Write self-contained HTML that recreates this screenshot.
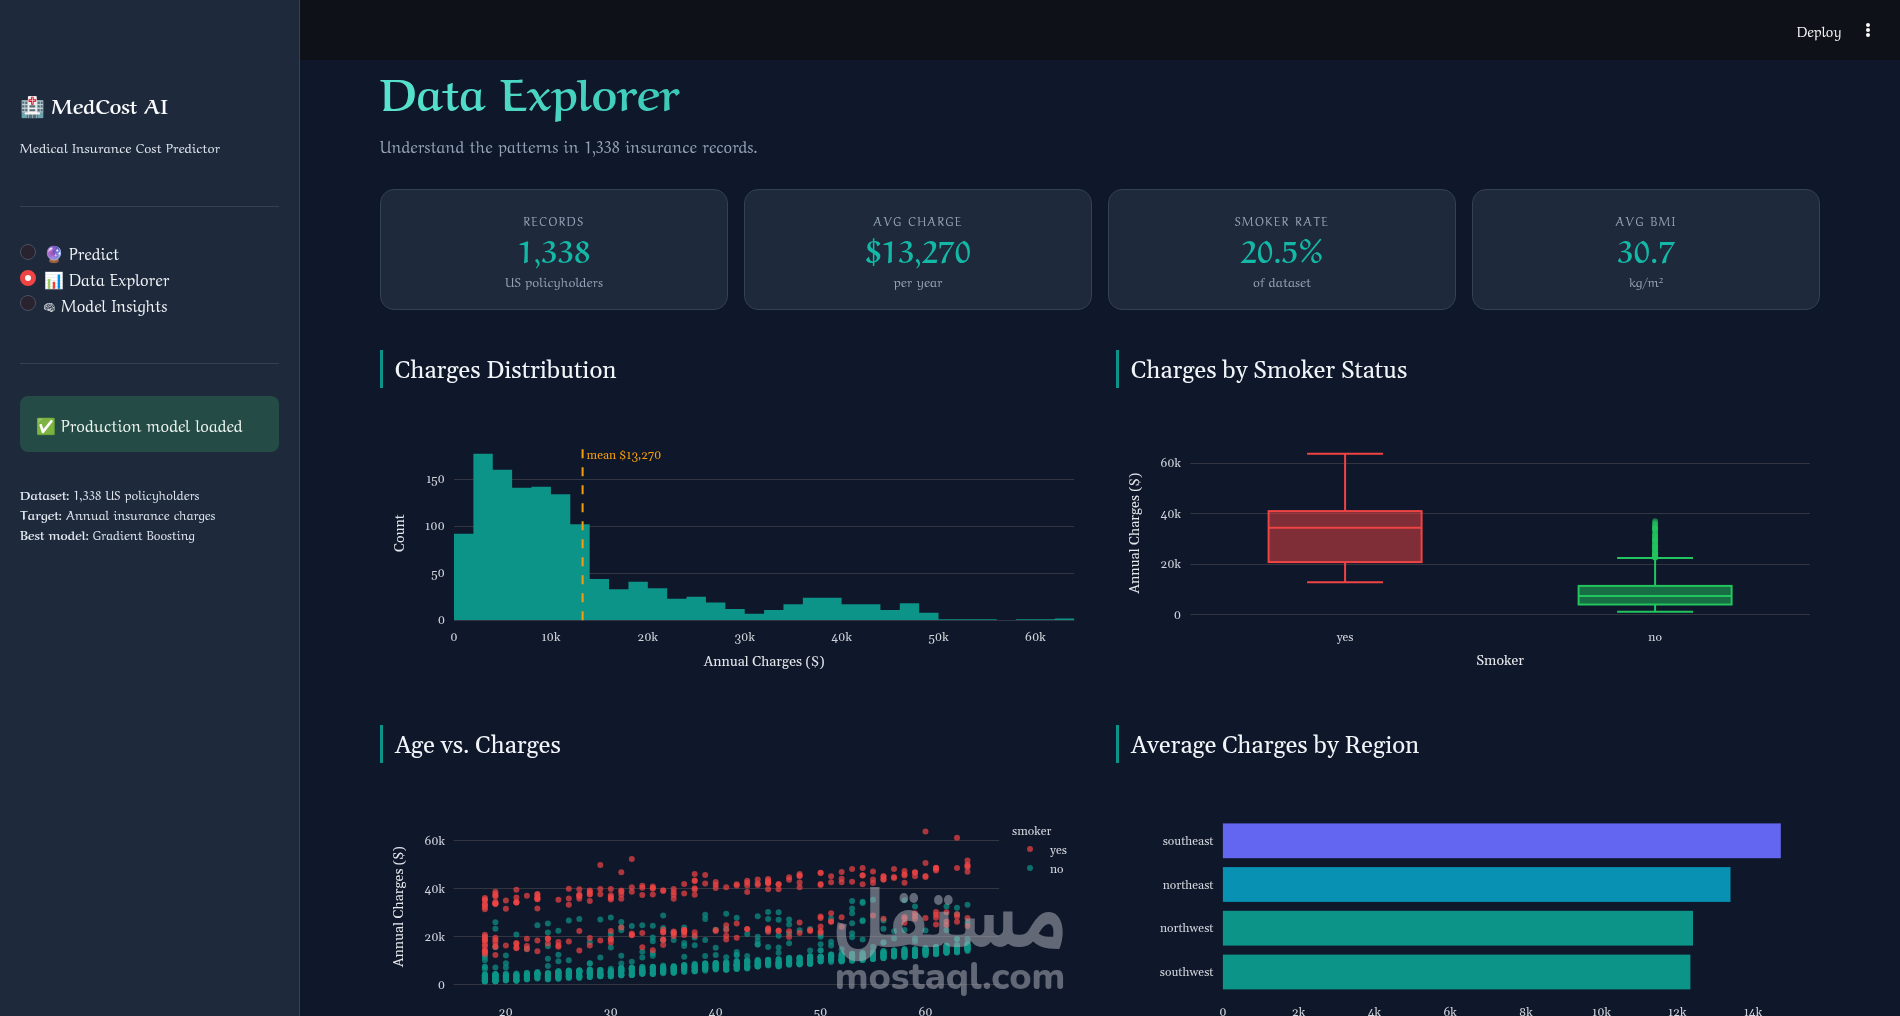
<!DOCTYPE html><html><head><meta charset="utf-8"><title>MedCost AI · Data Explorer</title><style>
*{margin:0;padding:0;box-sizing:border-box}
html,body{width:1900px;height:1016px;overflow:hidden;background:#0f172a;font-family:'Aref Ruqaa','Liberation Serif',serif}
#root{position:absolute;left:0;top:0;width:1900px;height:1016px;will-change:transform}
#sb{position:absolute;left:0;top:0;width:300px;height:1016px;background:#1e293b;border-right:1px solid #334155}
#hdr{position:absolute;left:300px;top:0;width:1600px;height:60px;background:#0e1117}
.hr{position:absolute;left:20px;width:259px;height:1px;background:#334155}
.rad{position:absolute;left:20px;width:16px;height:16px;border-radius:50%;background:#28232e;border:1px solid #4a5060}
.rad.sel{background:#f8fafc;border:5px solid #ef4444}
#succ{position:absolute;left:20px;top:396px;width:259px;height:56px;border-radius:8px;background:rgba(61,213,109,0.2)}
.emo{font-family:'Noto Color Emoji',sans-serif;font-size:1em}
.mono{font-family:'Noto Emoji','DejaVu Sans',sans-serif;font-size:0.62em;font-weight:300;position:relative;top:-1px}
.kb{position:absolute;left:1866px;width:4px;height:4px;border-radius:50%;background:#fafafa}
.grad{background:linear-gradient(90deg,#58e3cf,#3cc9b7);-webkit-background-clip:text;background-clip:text;color:transparent}
.card{position:absolute;top:189px;width:348px;height:121px;border-radius:14px;background:#1e293b;border:1px solid #334155}
.sec{position:absolute;width:3px;height:38px;background:#0d9488}
#ch,#tx{position:absolute;left:0;top:0}
#wm{position:absolute;left:825px;top:870px;width:250px;height:135px;color:#aaacb6;opacity:0.55}
#wm .wa{position:absolute;left:0;top:8px;width:250px;text-align:center;font-family:Alexandria,'DejaVu Sans',sans-serif;font-weight:700;font-size:60px;line-height:90px;transform:scaleY(1.15)}
#wm .wl{position:absolute;left:0;top:87px;width:250px;text-align:center;font-family:Nunito,'DejaVu Sans',sans-serif;font-weight:800;font-size:38px;line-height:40px}
</style></head><body><div id="root"><div id="sb"></div><div class="hr" style="top:206px"></div><div class="rad" style="top:244px"></div><div class="rad sel" style="top:270px"></div><div class="rad" style="top:295px"></div><div class="hr" style="top:363px"></div><div id="succ"></div><div id="hdr"></div><div class="kb" style="top:23px"></div><div class="kb" style="top:28px"></div><div class="kb" style="top:33px"></div><div class="card" style="left:380px"></div><div class="card" style="left:744px"></div><div class="card" style="left:1108px"></div><div class="card" style="left:1472px"></div><div class="sec" style="left:380px;top:350px"></div><div class="sec" style="left:1116px;top:350px"></div><div class="sec" style="left:380px;top:725px"></div><div class="sec" style="left:1116px;top:725px"></div><svg id="ch" width="1900" height="1016" viewBox="0 0 1900 1016" font-family="Gelasio, 'Liberation Serif', serif"><line x1="454.0" x2="1074.2" y1="573.5" y2="573.5" stroke="#333541" stroke-width="1"/><line x1="454.0" x2="1074.2" y1="526.5" y2="526.5" stroke="#333541" stroke-width="1"/><line x1="454.0" x2="1074.2" y1="479.5" y2="479.5" stroke="#333541" stroke-width="1"/><path d="M454.00,620.30L454.00,533.76L473.38,533.76L473.38,453.80L492.76,453.80L492.76,469.79L512.14,469.79L512.14,487.66L531.52,487.66L531.52,486.72L550.91,486.72L550.91,494.25L570.29,494.25L570.29,524.35L589.67,524.35L589.67,578.91L609.05,578.91L609.05,589.26L628.43,589.26L628.43,581.73L647.81,581.73L647.81,588.32L667.19,588.32L667.19,598.66L686.58,598.66L686.58,596.78L705.96,596.78L705.96,602.43L725.34,602.43L725.34,609.01L744.72,609.01L744.72,613.72L764.10,613.72L764.10,609.95L783.48,609.95L783.48,604.31L802.86,604.31L802.86,597.72L822.24,597.72L822.24,597.72L841.63,597.72L841.62,604.31L861.01,604.31L861.01,604.31L880.39,604.31L880.39,609.95L899.77,609.95L899.77,603.37L919.15,603.37L919.15,612.77L938.53,612.77L938.53,619.36L957.91,619.36L957.91,619.36L977.29,619.36L977.29,619.36L996.68,619.36L996.68,620.30L1016.06,620.30L1016.06,619.36L1035.44,619.36L1035.44,619.36L1054.82,619.36L1054.82,618.42L1074.20,618.42L1074.20,620.30Z" fill="#0d9488"/><line x1="454.0" x2="1074.2" y1="620.5" y2="620.5" stroke="#333541" stroke-width="1"/><line x1="582.6" x2="582.6" y1="620.3" y2="446.0" stroke="#f59e0b" stroke-width="2" stroke-dasharray="9,9"/><text x="586.6" y="459.0" font-size="12" text-anchor="start" fill="#f59e0b" id="t28" textLength="74.844" lengthAdjust="spacingAndGlyphs">mean $13,270</text><text x="445.0" y="624.3" font-size="12" text-anchor="end" fill="#d1d5db" id="t29" textLength="7.375" lengthAdjust="spacingAndGlyphs">0</text><text x="445.0" y="577.3" font-size="12" text-anchor="end" fill="#d1d5db" id="t30" textLength="13.719" lengthAdjust="spacingAndGlyphs">50</text><text x="445.0" y="530.2" font-size="12" text-anchor="end" fill="#d1d5db" id="t31" textLength="19.891" lengthAdjust="spacingAndGlyphs">100</text><text x="445.0" y="483.2" font-size="12" text-anchor="end" fill="#d1d5db" id="t32" textLength="18.875" lengthAdjust="spacingAndGlyphs">150</text><text x="454.0" y="641.0" font-size="12" text-anchor="middle" fill="#d1d5db" id="t33" textLength="7.375" lengthAdjust="spacingAndGlyphs">0</text><text x="550.9" y="641.0" font-size="12" text-anchor="middle" fill="#d1d5db" id="t34" textLength="18.953" lengthAdjust="spacingAndGlyphs">10k</text><text x="647.8" y="641.0" font-size="12" text-anchor="middle" fill="#d1d5db" id="t35" textLength="20.500" lengthAdjust="spacingAndGlyphs">20k</text><text x="744.7" y="641.0" font-size="12" text-anchor="middle" fill="#d1d5db" id="t36" textLength="20.422" lengthAdjust="spacingAndGlyphs">30k</text><text x="841.6" y="641.0" font-size="12" text-anchor="middle" fill="#d1d5db" id="t37" textLength="20.578" lengthAdjust="spacingAndGlyphs">40k</text><text x="938.5" y="641.0" font-size="12" text-anchor="middle" fill="#d1d5db" id="t38" textLength="20.141" lengthAdjust="spacingAndGlyphs">50k</text><text x="1035.4" y="641.0" font-size="12" text-anchor="middle" fill="#d1d5db" id="t39" textLength="20.594" lengthAdjust="spacingAndGlyphs">60k</text><text x="764.1" y="665.8" font-size="14" text-anchor="middle" fill="#e5e7eb" id="t40" textLength="120.719" lengthAdjust="spacingAndGlyphs">Annual Charges ($)</text><text x="404.0" y="533.1" font-size="14" text-anchor="middle" fill="#e5e7eb" transform="rotate(-90 404 533.15)" id="t41" textLength="37.703" lengthAdjust="spacingAndGlyphs">Count</text><line x1="1190.3" x2="1809.9" y1="614.5" y2="614.5" stroke="#333541" stroke-width="1"/><text x="1181.0" y="618.5" font-size="12" text-anchor="end" fill="#d1d5db" id="t42" textLength="7.375" lengthAdjust="spacingAndGlyphs">0</text><line x1="1190.3" x2="1809.9" y1="564.5" y2="564.5" stroke="#333541" stroke-width="1"/><text x="1181.0" y="568.1" font-size="12" text-anchor="end" fill="#d1d5db" id="t43" textLength="20.500" lengthAdjust="spacingAndGlyphs">20k</text><line x1="1190.3" x2="1809.9" y1="513.5" y2="513.5" stroke="#333541" stroke-width="1"/><text x="1181.0" y="517.7" font-size="12" text-anchor="end" fill="#d1d5db" id="t44" textLength="20.578" lengthAdjust="spacingAndGlyphs">40k</text><line x1="1190.3" x2="1809.9" y1="463.5" y2="463.5" stroke="#333541" stroke-width="1"/><text x="1181.0" y="467.3" font-size="12" text-anchor="end" fill="#d1d5db" id="t45" textLength="20.594" lengthAdjust="spacingAndGlyphs">60k</text><line x1="1345.1" x2="1345.1" y1="511.1" y2="453.8" stroke="#ef4444" stroke-width="2"/><line x1="1345.1" x2="1345.1" y1="562.1" y2="582.2" stroke="#ef4444" stroke-width="2"/><line x1="1307.1" x2="1383.1" y1="453.8" y2="453.8" stroke="#ef4444" stroke-width="2"/><line x1="1307.1" x2="1383.1" y1="582.2" y2="582.2" stroke="#ef4444" stroke-width="2"/><rect x="1268.6" y="511.1" width="153.0" height="51.0" fill="rgba(239,68,68,0.5)" stroke="#ef4444" stroke-width="2"/><line x1="1268.6" x2="1421.6" y1="527.7" y2="527.7" stroke="#ef4444" stroke-width="2"/><line x1="1655.1" x2="1655.1" y1="585.9" y2="558.1" stroke="#22c55e" stroke-width="2"/><line x1="1655.1" x2="1655.1" y1="604.4" y2="611.7" stroke="#22c55e" stroke-width="2"/><line x1="1617.1" x2="1693.1" y1="558.1" y2="558.1" stroke="#22c55e" stroke-width="2"/><line x1="1617.1" x2="1693.1" y1="611.7" y2="611.7" stroke="#22c55e" stroke-width="2"/><rect x="1578.6" y="585.9" width="153.0" height="18.6" fill="rgba(34,197,94,0.5)" stroke="#22c55e" stroke-width="2"/><line x1="1578.6" x2="1731.6" y1="596.0" y2="596.0" stroke="#22c55e" stroke-width="2"/><circle cx="1655.1" cy="557.5" r="3" fill="#22c55e" fill-opacity="0.55" /><circle cx="1655.1" cy="557.4" r="3" fill="#22c55e" fill-opacity="0.55" /><circle cx="1655.1" cy="557.1" r="3" fill="#22c55e" fill-opacity="0.55" /><circle cx="1655.1" cy="557.1" r="3" fill="#22c55e" fill-opacity="0.55" /><circle cx="1655.1" cy="556.7" r="3" fill="#22c55e" fill-opacity="0.55" /><circle cx="1655.1" cy="556.0" r="3" fill="#22c55e" fill-opacity="0.55" /><circle cx="1655.1" cy="555.8" r="3" fill="#22c55e" fill-opacity="0.55" /><circle cx="1655.1" cy="554.4" r="3" fill="#22c55e" fill-opacity="0.55" /><circle cx="1655.1" cy="554.0" r="3" fill="#22c55e" fill-opacity="0.55" /><circle cx="1655.1" cy="553.9" r="3" fill="#22c55e" fill-opacity="0.55" /><circle cx="1655.1" cy="553.3" r="3" fill="#22c55e" fill-opacity="0.55" /><circle cx="1655.1" cy="552.2" r="3" fill="#22c55e" fill-opacity="0.55" /><circle cx="1655.1" cy="552.2" r="3" fill="#22c55e" fill-opacity="0.55" /><circle cx="1655.1" cy="550.1" r="3" fill="#22c55e" fill-opacity="0.55" /><circle cx="1655.1" cy="549.6" r="3" fill="#22c55e" fill-opacity="0.55" /><circle cx="1655.1" cy="549.3" r="3" fill="#22c55e" fill-opacity="0.55" /><circle cx="1655.1" cy="547.9" r="3" fill="#22c55e" fill-opacity="0.55" /><circle cx="1655.1" cy="547.6" r="3" fill="#22c55e" fill-opacity="0.55" /><circle cx="1655.1" cy="546.6" r="3" fill="#22c55e" fill-opacity="0.55" /><circle cx="1655.1" cy="546.5" r="3" fill="#22c55e" fill-opacity="0.55" /><circle cx="1655.1" cy="546.4" r="3" fill="#22c55e" fill-opacity="0.55" /><circle cx="1655.1" cy="545.2" r="3" fill="#22c55e" fill-opacity="0.55" /><circle cx="1655.1" cy="544.6" r="3" fill="#22c55e" fill-opacity="0.55" /><circle cx="1655.1" cy="543.7" r="3" fill="#22c55e" fill-opacity="0.55" /><circle cx="1655.1" cy="541.8" r="3" fill="#22c55e" fill-opacity="0.55" /><circle cx="1655.1" cy="541.2" r="3" fill="#22c55e" fill-opacity="0.55" /><circle cx="1655.1" cy="540.3" r="3" fill="#22c55e" fill-opacity="0.55" /><circle cx="1655.1" cy="540.2" r="3" fill="#22c55e" fill-opacity="0.55" /><circle cx="1655.1" cy="539.9" r="3" fill="#22c55e" fill-opacity="0.55" /><circle cx="1655.1" cy="539.7" r="3" fill="#22c55e" fill-opacity="0.55" /><circle cx="1655.1" cy="538.2" r="3" fill="#22c55e" fill-opacity="0.55" /><circle cx="1655.1" cy="536.2" r="3" fill="#22c55e" fill-opacity="0.55" /><circle cx="1655.1" cy="536.0" r="3" fill="#22c55e" fill-opacity="0.55" /><circle cx="1655.1" cy="534.9" r="3" fill="#22c55e" fill-opacity="0.55" /><circle cx="1655.1" cy="534.1" r="3" fill="#22c55e" fill-opacity="0.55" /><circle cx="1655.1" cy="531.9" r="3" fill="#22c55e" fill-opacity="0.55" /><circle cx="1655.1" cy="530.1" r="3" fill="#22c55e" fill-opacity="0.55" /><circle cx="1655.1" cy="530.0" r="3" fill="#22c55e" fill-opacity="0.55" /><circle cx="1655.1" cy="528.5" r="3" fill="#22c55e" fill-opacity="0.55" /><circle cx="1655.1" cy="528.4" r="3" fill="#22c55e" fill-opacity="0.55" /><circle cx="1655.1" cy="527.8" r="3" fill="#22c55e" fill-opacity="0.55" /><circle cx="1655.1" cy="527.8" r="3" fill="#22c55e" fill-opacity="0.55" /><circle cx="1655.1" cy="525.5" r="3" fill="#22c55e" fill-opacity="0.55" /><circle cx="1655.1" cy="524.7" r="3" fill="#22c55e" fill-opacity="0.55" /><circle cx="1655.1" cy="523.0" r="3" fill="#22c55e" fill-opacity="0.55" /><circle cx="1655.1" cy="521.3" r="3" fill="#22c55e" fill-opacity="0.55" /><text x="1345.1" y="641.0" font-size="12" text-anchor="middle" fill="#d1d5db" id="t46" textLength="16.906" lengthAdjust="spacingAndGlyphs">yes</text><text x="1655.1" y="641.0" font-size="12" text-anchor="middle" fill="#d1d5db" id="t47" textLength="13.562" lengthAdjust="spacingAndGlyphs">no</text><text x="1500.1" y="665.0" font-size="14" text-anchor="middle" fill="#e5e7eb" id="t48" textLength="47.750" lengthAdjust="spacingAndGlyphs">Smoker</text><text x="1139.0" y="533.0" font-size="14" text-anchor="middle" fill="#e5e7eb" transform="rotate(-90 1139 533)" id="t49" textLength="120.719" lengthAdjust="spacingAndGlyphs">Annual Charges ($)</text><line x1="453.6" x2="999.2" y1="984.5" y2="984.5" stroke="#333541" stroke-width="1"/><text x="445.0" y="988.9" font-size="12" text-anchor="end" fill="#d1d5db" id="t50" textLength="7.375" lengthAdjust="spacingAndGlyphs">0</text><line x1="453.6" x2="999.2" y1="936.5" y2="936.5" stroke="#333541" stroke-width="1"/><text x="445.0" y="941.0" font-size="12" text-anchor="end" fill="#d1d5db" id="t51" textLength="20.500" lengthAdjust="spacingAndGlyphs">20k</text><line x1="453.6" x2="999.2" y1="888.5" y2="888.5" stroke="#333541" stroke-width="1"/><text x="445.0" y="893.0" font-size="12" text-anchor="end" fill="#d1d5db" id="t52" textLength="20.578" lengthAdjust="spacingAndGlyphs">40k</text><line x1="453.6" x2="999.2" y1="840.5" y2="840.5" stroke="#333541" stroke-width="1"/><text x="445.0" y="845.1" font-size="12" text-anchor="end" fill="#d1d5db" id="t53" textLength="20.594" lengthAdjust="spacingAndGlyphs">60k</text><text x="505.9" y="1016.2" font-size="12" text-anchor="middle" fill="#d1d5db" id="t54" textLength="14.078" lengthAdjust="spacingAndGlyphs">20</text><text x="610.8" y="1016.2" font-size="12" text-anchor="middle" fill="#d1d5db" id="t55" textLength="14.000" lengthAdjust="spacingAndGlyphs">30</text><text x="715.7" y="1016.2" font-size="12" text-anchor="middle" fill="#d1d5db" id="t56" textLength="14.156" lengthAdjust="spacingAndGlyphs">40</text><text x="820.6" y="1016.2" font-size="12" text-anchor="middle" fill="#d1d5db" id="t57" textLength="13.719" lengthAdjust="spacingAndGlyphs">50</text><text x="925.5" y="1016.2" font-size="12" text-anchor="middle" fill="#d1d5db" id="t58" textLength="14.156" lengthAdjust="spacingAndGlyphs">60</text><text x="403.0" y="906.5" font-size="14" text-anchor="middle" fill="#e5e7eb" transform="rotate(-90 403 906.5)" id="t59" textLength="120.719" lengthAdjust="spacingAndGlyphs">Annual Charges ($)</text><circle cx="484.9" cy="975.8" r="3" fill="#0d9488" fill-opacity="0.7"/><circle cx="484.9" cy="980.5" r="3" fill="#0d9488" fill-opacity="0.7"/><circle cx="484.9" cy="976.0" r="3" fill="#0d9488" fill-opacity="0.7"/><circle cx="484.9" cy="981.3" r="3" fill="#0d9488" fill-opacity="0.7"/><circle cx="484.9" cy="975.3" r="3" fill="#0d9488" fill-opacity="0.7"/><circle cx="484.9" cy="979.7" r="3" fill="#0d9488" fill-opacity="0.7"/><circle cx="484.9" cy="974.7" r="3" fill="#0d9488" fill-opacity="0.7"/><circle cx="484.9" cy="975.8" r="3" fill="#0d9488" fill-opacity="0.7"/><circle cx="484.9" cy="980.9" r="3" fill="#0d9488" fill-opacity="0.7"/><circle cx="484.9" cy="980.7" r="3" fill="#0d9488" fill-opacity="0.7"/><circle cx="484.9" cy="936.7" r="3" fill="#0d9488" fill-opacity="0.7"/><circle cx="484.9" cy="976.5" r="3" fill="#0d9488" fill-opacity="0.7"/><circle cx="484.9" cy="954.9" r="3" fill="#0d9488" fill-opacity="0.7"/><circle cx="484.9" cy="979.3" r="3" fill="#0d9488" fill-opacity="0.7"/><circle cx="484.9" cy="981.3" r="3" fill="#0d9488" fill-opacity="0.7"/><circle cx="484.9" cy="978.4" r="3" fill="#0d9488" fill-opacity="0.7"/><circle cx="484.9" cy="980.6" r="3" fill="#0d9488" fill-opacity="0.7"/><circle cx="484.9" cy="977.3" r="3" fill="#0d9488" fill-opacity="0.7"/><circle cx="484.9" cy="979.9" r="3" fill="#0d9488" fill-opacity="0.7"/><circle cx="484.9" cy="979.4" r="3" fill="#0d9488" fill-opacity="0.7"/><circle cx="484.9" cy="975.1" r="3" fill="#0d9488" fill-opacity="0.7"/><circle cx="484.9" cy="974.4" r="3" fill="#0d9488" fill-opacity="0.7"/><circle cx="484.9" cy="975.2" r="3" fill="#0d9488" fill-opacity="0.7"/><circle cx="484.9" cy="980.4" r="3" fill="#0d9488" fill-opacity="0.7"/><circle cx="484.9" cy="981.3" r="3" fill="#0d9488" fill-opacity="0.7"/><circle cx="484.9" cy="978.5" r="3" fill="#0d9488" fill-opacity="0.7"/><circle cx="484.9" cy="980.3" r="3" fill="#0d9488" fill-opacity="0.7"/><circle cx="484.9" cy="981.0" r="3" fill="#0d9488" fill-opacity="0.7"/><circle cx="484.9" cy="980.4" r="3" fill="#0d9488" fill-opacity="0.7"/><circle cx="484.9" cy="976.5" r="3" fill="#0d9488" fill-opacity="0.7"/><circle cx="484.9" cy="975.2" r="3" fill="#0d9488" fill-opacity="0.7"/><circle cx="484.9" cy="977.7" r="3" fill="#0d9488" fill-opacity="0.7"/><circle cx="484.9" cy="978.1" r="3" fill="#0d9488" fill-opacity="0.7"/><circle cx="484.9" cy="981.3" r="3" fill="#0d9488" fill-opacity="0.7"/><circle cx="484.9" cy="969.6" r="3" fill="#0d9488" fill-opacity="0.7"/><circle cx="484.9" cy="975.5" r="3" fill="#0d9488" fill-opacity="0.7"/><circle cx="484.9" cy="979.1" r="3" fill="#0d9488" fill-opacity="0.7"/><circle cx="484.9" cy="966.5" r="3" fill="#0d9488" fill-opacity="0.7"/><circle cx="484.9" cy="978.0" r="3" fill="#0d9488" fill-opacity="0.7"/><circle cx="484.9" cy="980.6" r="3" fill="#0d9488" fill-opacity="0.7"/><circle cx="484.9" cy="976.6" r="3" fill="#0d9488" fill-opacity="0.7"/><circle cx="484.9" cy="976.0" r="3" fill="#0d9488" fill-opacity="0.7"/><circle cx="484.9" cy="979.9" r="3" fill="#0d9488" fill-opacity="0.7"/><circle cx="484.9" cy="960.2" r="3" fill="#0d9488" fill-opacity="0.7"/><circle cx="484.9" cy="974.7" r="3" fill="#0d9488" fill-opacity="0.7"/><circle cx="484.9" cy="976.7" r="3" fill="#0d9488" fill-opacity="0.7"/><circle cx="484.9" cy="981.3" r="3" fill="#0d9488" fill-opacity="0.7"/><circle cx="484.9" cy="957.5" r="3" fill="#0d9488" fill-opacity="0.7"/><circle cx="484.9" cy="967.3" r="3" fill="#0d9488" fill-opacity="0.7"/><circle cx="484.9" cy="978.8" r="3" fill="#0d9488" fill-opacity="0.7"/><circle cx="484.9" cy="977.2" r="3" fill="#0d9488" fill-opacity="0.7"/><circle cx="495.4" cy="978.8" r="3" fill="#0d9488" fill-opacity="0.7"/><circle cx="495.4" cy="981.3" r="3" fill="#0d9488" fill-opacity="0.7"/><circle cx="495.4" cy="976.2" r="3" fill="#0d9488" fill-opacity="0.7"/><circle cx="495.4" cy="978.3" r="3" fill="#0d9488" fill-opacity="0.7"/><circle cx="495.4" cy="978.0" r="3" fill="#0d9488" fill-opacity="0.7"/><circle cx="495.4" cy="967.6" r="3" fill="#0d9488" fill-opacity="0.7"/><circle cx="495.4" cy="976.1" r="3" fill="#0d9488" fill-opacity="0.7"/><circle cx="495.4" cy="976.9" r="3" fill="#0d9488" fill-opacity="0.7"/><circle cx="495.4" cy="975.0" r="3" fill="#0d9488" fill-opacity="0.7"/><circle cx="495.4" cy="980.0" r="3" fill="#0d9488" fill-opacity="0.7"/><circle cx="495.4" cy="977.0" r="3" fill="#0d9488" fill-opacity="0.7"/><circle cx="495.4" cy="922.3" r="3" fill="#0d9488" fill-opacity="0.7"/><circle cx="495.4" cy="974.2" r="3" fill="#0d9488" fill-opacity="0.7"/><circle cx="495.4" cy="979.3" r="3" fill="#0d9488" fill-opacity="0.7"/><circle cx="495.4" cy="979.9" r="3" fill="#0d9488" fill-opacity="0.7"/><circle cx="495.4" cy="979.9" r="3" fill="#0d9488" fill-opacity="0.7"/><circle cx="495.4" cy="976.4" r="3" fill="#0d9488" fill-opacity="0.7"/><circle cx="495.4" cy="974.3" r="3" fill="#0d9488" fill-opacity="0.7"/><circle cx="495.4" cy="977.0" r="3" fill="#0d9488" fill-opacity="0.7"/><circle cx="495.4" cy="978.9" r="3" fill="#0d9488" fill-opacity="0.7"/><circle cx="495.4" cy="974.2" r="3" fill="#0d9488" fill-opacity="0.7"/><circle cx="495.4" cy="975.5" r="3" fill="#0d9488" fill-opacity="0.7"/><circle cx="495.4" cy="981.3" r="3" fill="#0d9488" fill-opacity="0.7"/><circle cx="495.4" cy="975.4" r="3" fill="#0d9488" fill-opacity="0.7"/><circle cx="495.4" cy="928.7" r="3" fill="#0d9488" fill-opacity="0.7"/><circle cx="495.4" cy="980.5" r="3" fill="#0d9488" fill-opacity="0.7"/><circle cx="495.4" cy="978.1" r="3" fill="#0d9488" fill-opacity="0.7"/><circle cx="495.4" cy="979.8" r="3" fill="#0d9488" fill-opacity="0.7"/><circle cx="495.4" cy="976.9" r="3" fill="#0d9488" fill-opacity="0.7"/><circle cx="495.4" cy="981.3" r="3" fill="#0d9488" fill-opacity="0.7"/><circle cx="495.4" cy="980.4" r="3" fill="#0d9488" fill-opacity="0.7"/><circle cx="495.4" cy="981.3" r="3" fill="#0d9488" fill-opacity="0.7"/><circle cx="495.4" cy="976.7" r="3" fill="#0d9488" fill-opacity="0.7"/><circle cx="495.4" cy="976.1" r="3" fill="#0d9488" fill-opacity="0.7"/><circle cx="495.4" cy="975.2" r="3" fill="#0d9488" fill-opacity="0.7"/><circle cx="495.4" cy="979.1" r="3" fill="#0d9488" fill-opacity="0.7"/><circle cx="495.4" cy="980.6" r="3" fill="#0d9488" fill-opacity="0.7"/><circle cx="495.4" cy="980.7" r="3" fill="#0d9488" fill-opacity="0.7"/><circle cx="495.4" cy="974.6" r="3" fill="#0d9488" fill-opacity="0.7"/><circle cx="495.4" cy="975.6" r="3" fill="#0d9488" fill-opacity="0.7"/><circle cx="495.4" cy="974.6" r="3" fill="#0d9488" fill-opacity="0.7"/><circle cx="495.4" cy="974.3" r="3" fill="#0d9488" fill-opacity="0.7"/><circle cx="495.4" cy="981.3" r="3" fill="#0d9488" fill-opacity="0.7"/><circle cx="495.4" cy="977.0" r="3" fill="#0d9488" fill-opacity="0.7"/><circle cx="495.4" cy="980.7" r="3" fill="#0d9488" fill-opacity="0.7"/><circle cx="495.4" cy="974.8" r="3" fill="#0d9488" fill-opacity="0.7"/><circle cx="495.4" cy="947.2" r="3" fill="#0d9488" fill-opacity="0.7"/><circle cx="495.4" cy="974.8" r="3" fill="#0d9488" fill-opacity="0.7"/><circle cx="495.4" cy="978.7" r="3" fill="#0d9488" fill-opacity="0.7"/><circle cx="495.4" cy="980.9" r="3" fill="#0d9488" fill-opacity="0.7"/><circle cx="495.4" cy="981.1" r="3" fill="#0d9488" fill-opacity="0.7"/><circle cx="495.4" cy="974.7" r="3" fill="#0d9488" fill-opacity="0.7"/><circle cx="495.4" cy="980.0" r="3" fill="#0d9488" fill-opacity="0.7"/><circle cx="495.4" cy="975.7" r="3" fill="#0d9488" fill-opacity="0.7"/><circle cx="505.9" cy="979.5" r="3" fill="#0d9488" fill-opacity="0.7"/><circle cx="505.9" cy="977.5" r="3" fill="#0d9488" fill-opacity="0.7"/><circle cx="505.9" cy="977.8" r="3" fill="#0d9488" fill-opacity="0.7"/><circle cx="505.9" cy="975.5" r="3" fill="#0d9488" fill-opacity="0.7"/><circle cx="505.9" cy="955.6" r="3" fill="#0d9488" fill-opacity="0.7"/><circle cx="505.9" cy="976.1" r="3" fill="#0d9488" fill-opacity="0.7"/><circle cx="505.9" cy="973.4" r="3" fill="#0d9488" fill-opacity="0.7"/><circle cx="505.9" cy="978.5" r="3" fill="#0d9488" fill-opacity="0.7"/><circle cx="505.9" cy="977.8" r="3" fill="#0d9488" fill-opacity="0.7"/><circle cx="505.9" cy="976.7" r="3" fill="#0d9488" fill-opacity="0.7"/><circle cx="505.9" cy="975.4" r="3" fill="#0d9488" fill-opacity="0.7"/><circle cx="505.9" cy="975.2" r="3" fill="#0d9488" fill-opacity="0.7"/><circle cx="505.9" cy="963.2" r="3" fill="#0d9488" fill-opacity="0.7"/><circle cx="505.9" cy="967.4" r="3" fill="#0d9488" fill-opacity="0.7"/><circle cx="505.9" cy="980.3" r="3" fill="#0d9488" fill-opacity="0.7"/><circle cx="505.9" cy="976.0" r="3" fill="#0d9488" fill-opacity="0.7"/><circle cx="505.9" cy="979.9" r="3" fill="#0d9488" fill-opacity="0.7"/><circle cx="505.9" cy="979.8" r="3" fill="#0d9488" fill-opacity="0.7"/><circle cx="505.9" cy="976.2" r="3" fill="#0d9488" fill-opacity="0.7"/><circle cx="505.9" cy="980.4" r="3" fill="#0d9488" fill-opacity="0.7"/><circle cx="505.9" cy="974.4" r="3" fill="#0d9488" fill-opacity="0.7"/><circle cx="505.9" cy="975.6" r="3" fill="#0d9488" fill-opacity="0.7"/><circle cx="505.9" cy="977.5" r="3" fill="#0d9488" fill-opacity="0.7"/><circle cx="505.9" cy="976.4" r="3" fill="#0d9488" fill-opacity="0.7"/><circle cx="505.9" cy="978.7" r="3" fill="#0d9488" fill-opacity="0.7"/><circle cx="516.4" cy="977.4" r="3" fill="#0d9488" fill-opacity="0.7"/><circle cx="516.4" cy="974.6" r="3" fill="#0d9488" fill-opacity="0.7"/><circle cx="516.4" cy="980.4" r="3" fill="#0d9488" fill-opacity="0.7"/><circle cx="516.4" cy="974.6" r="3" fill="#0d9488" fill-opacity="0.7"/><circle cx="516.4" cy="979.3" r="3" fill="#0d9488" fill-opacity="0.7"/><circle cx="516.4" cy="980.4" r="3" fill="#0d9488" fill-opacity="0.7"/><circle cx="516.4" cy="980.3" r="3" fill="#0d9488" fill-opacity="0.7"/><circle cx="516.4" cy="975.7" r="3" fill="#0d9488" fill-opacity="0.7"/><circle cx="516.4" cy="980.8" r="3" fill="#0d9488" fill-opacity="0.7"/><circle cx="516.4" cy="934.4" r="3" fill="#0d9488" fill-opacity="0.7"/><circle cx="516.4" cy="973.5" r="3" fill="#0d9488" fill-opacity="0.7"/><circle cx="516.4" cy="976.8" r="3" fill="#0d9488" fill-opacity="0.7"/><circle cx="516.4" cy="980.6" r="3" fill="#0d9488" fill-opacity="0.7"/><circle cx="516.4" cy="978.4" r="3" fill="#0d9488" fill-opacity="0.7"/><circle cx="516.4" cy="979.9" r="3" fill="#0d9488" fill-opacity="0.7"/><circle cx="516.4" cy="975.7" r="3" fill="#0d9488" fill-opacity="0.7"/><circle cx="516.4" cy="978.0" r="3" fill="#0d9488" fill-opacity="0.7"/><circle cx="516.4" cy="975.5" r="3" fill="#0d9488" fill-opacity="0.7"/><circle cx="516.4" cy="976.5" r="3" fill="#0d9488" fill-opacity="0.7"/><circle cx="526.9" cy="976.6" r="3" fill="#0d9488" fill-opacity="0.7"/><circle cx="526.9" cy="979.1" r="3" fill="#0d9488" fill-opacity="0.7"/><circle cx="526.9" cy="979.0" r="3" fill="#0d9488" fill-opacity="0.7"/><circle cx="526.9" cy="975.2" r="3" fill="#0d9488" fill-opacity="0.7"/><circle cx="526.9" cy="976.9" r="3" fill="#0d9488" fill-opacity="0.7"/><circle cx="526.9" cy="977.6" r="3" fill="#0d9488" fill-opacity="0.7"/><circle cx="526.9" cy="973.8" r="3" fill="#0d9488" fill-opacity="0.7"/><circle cx="526.9" cy="977.9" r="3" fill="#0d9488" fill-opacity="0.7"/><circle cx="526.9" cy="979.4" r="3" fill="#0d9488" fill-opacity="0.7"/><circle cx="526.9" cy="975.1" r="3" fill="#0d9488" fill-opacity="0.7"/><circle cx="526.9" cy="978.6" r="3" fill="#0d9488" fill-opacity="0.7"/><circle cx="526.9" cy="977.5" r="3" fill="#0d9488" fill-opacity="0.7"/><circle cx="526.9" cy="977.4" r="3" fill="#0d9488" fill-opacity="0.7"/><circle cx="526.9" cy="978.4" r="3" fill="#0d9488" fill-opacity="0.7"/><circle cx="526.9" cy="974.6" r="3" fill="#0d9488" fill-opacity="0.7"/><circle cx="526.9" cy="973.3" r="3" fill="#0d9488" fill-opacity="0.7"/><circle cx="526.9" cy="948.7" r="3" fill="#0d9488" fill-opacity="0.7"/><circle cx="526.9" cy="972.7" r="3" fill="#0d9488" fill-opacity="0.7"/><circle cx="526.9" cy="975.2" r="3" fill="#0d9488" fill-opacity="0.7"/><circle cx="526.9" cy="977.5" r="3" fill="#0d9488" fill-opacity="0.7"/><circle cx="526.9" cy="975.4" r="3" fill="#0d9488" fill-opacity="0.7"/><circle cx="526.9" cy="974.8" r="3" fill="#0d9488" fill-opacity="0.7"/><circle cx="526.9" cy="974.7" r="3" fill="#0d9488" fill-opacity="0.7"/><circle cx="526.9" cy="975.5" r="3" fill="#0d9488" fill-opacity="0.7"/><circle cx="537.4" cy="973.2" r="3" fill="#0d9488" fill-opacity="0.7"/><circle cx="537.4" cy="975.0" r="3" fill="#0d9488" fill-opacity="0.7"/><circle cx="537.4" cy="973.8" r="3" fill="#0d9488" fill-opacity="0.7"/><circle cx="537.4" cy="973.6" r="3" fill="#0d9488" fill-opacity="0.7"/><circle cx="537.4" cy="973.2" r="3" fill="#0d9488" fill-opacity="0.7"/><circle cx="537.4" cy="973.9" r="3" fill="#0d9488" fill-opacity="0.7"/><circle cx="537.4" cy="973.7" r="3" fill="#0d9488" fill-opacity="0.7"/><circle cx="537.4" cy="974.2" r="3" fill="#0d9488" fill-opacity="0.7"/><circle cx="537.4" cy="977.7" r="3" fill="#0d9488" fill-opacity="0.7"/><circle cx="537.4" cy="972.0" r="3" fill="#0d9488" fill-opacity="0.7"/><circle cx="537.4" cy="974.5" r="3" fill="#0d9488" fill-opacity="0.7"/><circle cx="537.4" cy="975.1" r="3" fill="#0d9488" fill-opacity="0.7"/><circle cx="537.4" cy="925.2" r="3" fill="#0d9488" fill-opacity="0.7"/><circle cx="537.4" cy="975.0" r="3" fill="#0d9488" fill-opacity="0.7"/><circle cx="537.4" cy="972.4" r="3" fill="#0d9488" fill-opacity="0.7"/><circle cx="537.4" cy="975.5" r="3" fill="#0d9488" fill-opacity="0.7"/><circle cx="537.4" cy="976.9" r="3" fill="#0d9488" fill-opacity="0.7"/><circle cx="537.4" cy="978.6" r="3" fill="#0d9488" fill-opacity="0.7"/><circle cx="537.4" cy="978.3" r="3" fill="#0d9488" fill-opacity="0.7"/><circle cx="547.9" cy="978.7" r="3" fill="#0d9488" fill-opacity="0.7"/><circle cx="547.9" cy="979.0" r="3" fill="#0d9488" fill-opacity="0.7"/><circle cx="547.9" cy="972.8" r="3" fill="#0d9488" fill-opacity="0.7"/><circle cx="547.9" cy="973.4" r="3" fill="#0d9488" fill-opacity="0.7"/><circle cx="547.9" cy="974.6" r="3" fill="#0d9488" fill-opacity="0.7"/><circle cx="547.9" cy="973.5" r="3" fill="#0d9488" fill-opacity="0.7"/><circle cx="547.9" cy="958.7" r="3" fill="#0d9488" fill-opacity="0.7"/><circle cx="547.9" cy="946.3" r="3" fill="#0d9488" fill-opacity="0.7"/><circle cx="547.9" cy="973.8" r="3" fill="#0d9488" fill-opacity="0.7"/><circle cx="547.9" cy="976.2" r="3" fill="#0d9488" fill-opacity="0.7"/><circle cx="547.9" cy="977.6" r="3" fill="#0d9488" fill-opacity="0.7"/><circle cx="547.9" cy="974.5" r="3" fill="#0d9488" fill-opacity="0.7"/><circle cx="547.9" cy="975.5" r="3" fill="#0d9488" fill-opacity="0.7"/><circle cx="547.9" cy="932.4" r="3" fill="#0d9488" fill-opacity="0.7"/><circle cx="547.9" cy="976.2" r="3" fill="#0d9488" fill-opacity="0.7"/><circle cx="547.9" cy="977.5" r="3" fill="#0d9488" fill-opacity="0.7"/><circle cx="547.9" cy="979.5" r="3" fill="#0d9488" fill-opacity="0.7"/><circle cx="547.9" cy="978.0" r="3" fill="#0d9488" fill-opacity="0.7"/><circle cx="547.9" cy="923.5" r="3" fill="#0d9488" fill-opacity="0.7"/><circle cx="547.9" cy="975.6" r="3" fill="#0d9488" fill-opacity="0.7"/><circle cx="547.9" cy="966.0" r="3" fill="#0d9488" fill-opacity="0.7"/><circle cx="547.9" cy="976.9" r="3" fill="#0d9488" fill-opacity="0.7"/><circle cx="547.9" cy="974.1" r="3" fill="#0d9488" fill-opacity="0.7"/><circle cx="547.9" cy="978.1" r="3" fill="#0d9488" fill-opacity="0.7"/><circle cx="547.9" cy="977.8" r="3" fill="#0d9488" fill-opacity="0.7"/><circle cx="558.4" cy="974.3" r="3" fill="#0d9488" fill-opacity="0.7"/><circle cx="558.4" cy="978.5" r="3" fill="#0d9488" fill-opacity="0.7"/><circle cx="558.4" cy="975.2" r="3" fill="#0d9488" fill-opacity="0.7"/><circle cx="558.4" cy="977.8" r="3" fill="#0d9488" fill-opacity="0.7"/><circle cx="558.4" cy="975.4" r="3" fill="#0d9488" fill-opacity="0.7"/><circle cx="558.4" cy="954.8" r="3" fill="#0d9488" fill-opacity="0.7"/><circle cx="558.4" cy="975.0" r="3" fill="#0d9488" fill-opacity="0.7"/><circle cx="558.4" cy="976.0" r="3" fill="#0d9488" fill-opacity="0.7"/><circle cx="558.4" cy="972.7" r="3" fill="#0d9488" fill-opacity="0.7"/><circle cx="558.4" cy="973.2" r="3" fill="#0d9488" fill-opacity="0.7"/><circle cx="558.4" cy="971.2" r="3" fill="#0d9488" fill-opacity="0.7"/><circle cx="558.4" cy="976.2" r="3" fill="#0d9488" fill-opacity="0.7"/><circle cx="558.4" cy="978.3" r="3" fill="#0d9488" fill-opacity="0.7"/><circle cx="558.4" cy="972.5" r="3" fill="#0d9488" fill-opacity="0.7"/><circle cx="558.4" cy="930.7" r="3" fill="#0d9488" fill-opacity="0.7"/><circle cx="558.4" cy="978.7" r="3" fill="#0d9488" fill-opacity="0.7"/><circle cx="558.4" cy="977.0" r="3" fill="#0d9488" fill-opacity="0.7"/><circle cx="558.4" cy="972.7" r="3" fill="#0d9488" fill-opacity="0.7"/><circle cx="558.4" cy="971.6" r="3" fill="#0d9488" fill-opacity="0.7"/><circle cx="558.4" cy="976.4" r="3" fill="#0d9488" fill-opacity="0.7"/><circle cx="558.4" cy="961.2" r="3" fill="#0d9488" fill-opacity="0.7"/><circle cx="558.4" cy="973.0" r="3" fill="#0d9488" fill-opacity="0.7"/><circle cx="558.4" cy="971.3" r="3" fill="#0d9488" fill-opacity="0.7"/><circle cx="558.4" cy="972.7" r="3" fill="#0d9488" fill-opacity="0.7"/><circle cx="568.8" cy="976.8" r="3" fill="#0d9488" fill-opacity="0.7"/><circle cx="568.8" cy="977.5" r="3" fill="#0d9488" fill-opacity="0.7"/><circle cx="568.8" cy="960.2" r="3" fill="#0d9488" fill-opacity="0.7"/><circle cx="568.8" cy="970.8" r="3" fill="#0d9488" fill-opacity="0.7"/><circle cx="568.8" cy="971.3" r="3" fill="#0d9488" fill-opacity="0.7"/><circle cx="568.8" cy="972.1" r="3" fill="#0d9488" fill-opacity="0.7"/><circle cx="568.8" cy="920.5" r="3" fill="#0d9488" fill-opacity="0.7"/><circle cx="568.8" cy="976.8" r="3" fill="#0d9488" fill-opacity="0.7"/><circle cx="568.8" cy="977.3" r="3" fill="#0d9488" fill-opacity="0.7"/><circle cx="568.8" cy="973.8" r="3" fill="#0d9488" fill-opacity="0.7"/><circle cx="568.8" cy="974.0" r="3" fill="#0d9488" fill-opacity="0.7"/><circle cx="568.8" cy="977.9" r="3" fill="#0d9488" fill-opacity="0.7"/><circle cx="568.8" cy="970.6" r="3" fill="#0d9488" fill-opacity="0.7"/><circle cx="568.8" cy="971.9" r="3" fill="#0d9488" fill-opacity="0.7"/><circle cx="568.8" cy="975.5" r="3" fill="#0d9488" fill-opacity="0.7"/><circle cx="568.8" cy="974.8" r="3" fill="#0d9488" fill-opacity="0.7"/><circle cx="568.8" cy="974.3" r="3" fill="#0d9488" fill-opacity="0.7"/><circle cx="568.8" cy="976.1" r="3" fill="#0d9488" fill-opacity="0.7"/><circle cx="568.8" cy="971.2" r="3" fill="#0d9488" fill-opacity="0.7"/><circle cx="568.8" cy="973.5" r="3" fill="#0d9488" fill-opacity="0.7"/><circle cx="568.8" cy="972.2" r="3" fill="#0d9488" fill-opacity="0.7"/><circle cx="568.8" cy="973.0" r="3" fill="#0d9488" fill-opacity="0.7"/><circle cx="568.8" cy="975.8" r="3" fill="#0d9488" fill-opacity="0.7"/><circle cx="568.8" cy="976.6" r="3" fill="#0d9488" fill-opacity="0.7"/><circle cx="579.3" cy="971.2" r="3" fill="#0d9488" fill-opacity="0.7"/><circle cx="579.3" cy="976.4" r="3" fill="#0d9488" fill-opacity="0.7"/><circle cx="579.3" cy="970.4" r="3" fill="#0d9488" fill-opacity="0.7"/><circle cx="579.3" cy="976.0" r="3" fill="#0d9488" fill-opacity="0.7"/><circle cx="579.3" cy="970.6" r="3" fill="#0d9488" fill-opacity="0.7"/><circle cx="579.3" cy="970.5" r="3" fill="#0d9488" fill-opacity="0.7"/><circle cx="579.3" cy="971.1" r="3" fill="#0d9488" fill-opacity="0.7"/><circle cx="579.3" cy="976.4" r="3" fill="#0d9488" fill-opacity="0.7"/><circle cx="579.3" cy="971.2" r="3" fill="#0d9488" fill-opacity="0.7"/><circle cx="579.3" cy="971.0" r="3" fill="#0d9488" fill-opacity="0.7"/><circle cx="579.3" cy="972.9" r="3" fill="#0d9488" fill-opacity="0.7"/><circle cx="579.3" cy="972.9" r="3" fill="#0d9488" fill-opacity="0.7"/><circle cx="579.3" cy="978.1" r="3" fill="#0d9488" fill-opacity="0.7"/><circle cx="579.3" cy="971.6" r="3" fill="#0d9488" fill-opacity="0.7"/><circle cx="579.3" cy="971.4" r="3" fill="#0d9488" fill-opacity="0.7"/><circle cx="579.3" cy="972.9" r="3" fill="#0d9488" fill-opacity="0.7"/><circle cx="579.3" cy="919.0" r="3" fill="#0d9488" fill-opacity="0.7"/><circle cx="579.3" cy="970.5" r="3" fill="#0d9488" fill-opacity="0.7"/><circle cx="579.3" cy="976.1" r="3" fill="#0d9488" fill-opacity="0.7"/><circle cx="579.3" cy="977.6" r="3" fill="#0d9488" fill-opacity="0.7"/><circle cx="579.3" cy="975.3" r="3" fill="#0d9488" fill-opacity="0.7"/><circle cx="589.8" cy="973.7" r="3" fill="#0d9488" fill-opacity="0.7"/><circle cx="589.8" cy="969.7" r="3" fill="#0d9488" fill-opacity="0.7"/><circle cx="589.8" cy="973.6" r="3" fill="#0d9488" fill-opacity="0.7"/><circle cx="589.8" cy="977.0" r="3" fill="#0d9488" fill-opacity="0.7"/><circle cx="589.8" cy="971.4" r="3" fill="#0d9488" fill-opacity="0.7"/><circle cx="589.8" cy="969.5" r="3" fill="#0d9488" fill-opacity="0.7"/><circle cx="589.8" cy="963.3" r="3" fill="#0d9488" fill-opacity="0.7"/><circle cx="589.8" cy="970.9" r="3" fill="#0d9488" fill-opacity="0.7"/><circle cx="589.8" cy="974.6" r="3" fill="#0d9488" fill-opacity="0.7"/><circle cx="589.8" cy="972.7" r="3" fill="#0d9488" fill-opacity="0.7"/><circle cx="589.8" cy="963.6" r="3" fill="#0d9488" fill-opacity="0.7"/><circle cx="589.8" cy="972.5" r="3" fill="#0d9488" fill-opacity="0.7"/><circle cx="589.8" cy="971.2" r="3" fill="#0d9488" fill-opacity="0.7"/><circle cx="589.8" cy="942.3" r="3" fill="#0d9488" fill-opacity="0.7"/><circle cx="589.8" cy="971.2" r="3" fill="#0d9488" fill-opacity="0.7"/><circle cx="589.8" cy="972.5" r="3" fill="#0d9488" fill-opacity="0.7"/><circle cx="589.8" cy="976.8" r="3" fill="#0d9488" fill-opacity="0.7"/><circle cx="589.8" cy="973.9" r="3" fill="#0d9488" fill-opacity="0.7"/><circle cx="589.8" cy="974.1" r="3" fill="#0d9488" fill-opacity="0.7"/><circle cx="589.8" cy="970.3" r="3" fill="#0d9488" fill-opacity="0.7"/><circle cx="589.8" cy="977.0" r="3" fill="#0d9488" fill-opacity="0.7"/><circle cx="600.3" cy="974.2" r="3" fill="#0d9488" fill-opacity="0.7"/><circle cx="600.3" cy="976.3" r="3" fill="#0d9488" fill-opacity="0.7"/><circle cx="600.3" cy="973.2" r="3" fill="#0d9488" fill-opacity="0.7"/><circle cx="600.3" cy="970.1" r="3" fill="#0d9488" fill-opacity="0.7"/><circle cx="600.3" cy="975.8" r="3" fill="#0d9488" fill-opacity="0.7"/><circle cx="600.3" cy="970.0" r="3" fill="#0d9488" fill-opacity="0.7"/><circle cx="600.3" cy="970.5" r="3" fill="#0d9488" fill-opacity="0.7"/><circle cx="600.3" cy="976.2" r="3" fill="#0d9488" fill-opacity="0.7"/><circle cx="600.3" cy="971.1" r="3" fill="#0d9488" fill-opacity="0.7"/><circle cx="600.3" cy="976.1" r="3" fill="#0d9488" fill-opacity="0.7"/><circle cx="600.3" cy="975.9" r="3" fill="#0d9488" fill-opacity="0.7"/><circle cx="600.3" cy="973.5" r="3" fill="#0d9488" fill-opacity="0.7"/><circle cx="600.3" cy="974.8" r="3" fill="#0d9488" fill-opacity="0.7"/><circle cx="600.3" cy="974.1" r="3" fill="#0d9488" fill-opacity="0.7"/><circle cx="600.3" cy="974.4" r="3" fill="#0d9488" fill-opacity="0.7"/><circle cx="600.3" cy="974.6" r="3" fill="#0d9488" fill-opacity="0.7"/><circle cx="600.3" cy="973.6" r="3" fill="#0d9488" fill-opacity="0.7"/><circle cx="600.3" cy="974.8" r="3" fill="#0d9488" fill-opacity="0.7"/><circle cx="600.3" cy="972.0" r="3" fill="#0d9488" fill-opacity="0.7"/><circle cx="600.3" cy="969.9" r="3" fill="#0d9488" fill-opacity="0.7"/><circle cx="600.3" cy="957.4" r="3" fill="#0d9488" fill-opacity="0.7"/><circle cx="600.3" cy="974.1" r="3" fill="#0d9488" fill-opacity="0.7"/><circle cx="600.3" cy="919.5" r="3" fill="#0d9488" fill-opacity="0.7"/><circle cx="600.3" cy="976.1" r="3" fill="#0d9488" fill-opacity="0.7"/><circle cx="610.8" cy="974.8" r="3" fill="#0d9488" fill-opacity="0.7"/><circle cx="610.8" cy="972.9" r="3" fill="#0d9488" fill-opacity="0.7"/><circle cx="610.8" cy="968.8" r="3" fill="#0d9488" fill-opacity="0.7"/><circle cx="610.8" cy="917.5" r="3" fill="#0d9488" fill-opacity="0.7"/><circle cx="610.8" cy="972.3" r="3" fill="#0d9488" fill-opacity="0.7"/><circle cx="610.8" cy="947.4" r="3" fill="#0d9488" fill-opacity="0.7"/><circle cx="610.8" cy="971.9" r="3" fill="#0d9488" fill-opacity="0.7"/><circle cx="610.8" cy="976.3" r="3" fill="#0d9488" fill-opacity="0.7"/><circle cx="610.8" cy="973.2" r="3" fill="#0d9488" fill-opacity="0.7"/><circle cx="610.8" cy="973.6" r="3" fill="#0d9488" fill-opacity="0.7"/><circle cx="610.8" cy="972.4" r="3" fill="#0d9488" fill-opacity="0.7"/><circle cx="610.8" cy="970.3" r="3" fill="#0d9488" fill-opacity="0.7"/><circle cx="610.8" cy="972.1" r="3" fill="#0d9488" fill-opacity="0.7"/><circle cx="610.8" cy="974.5" r="3" fill="#0d9488" fill-opacity="0.7"/><circle cx="610.8" cy="971.1" r="3" fill="#0d9488" fill-opacity="0.7"/><circle cx="610.8" cy="976.3" r="3" fill="#0d9488" fill-opacity="0.7"/><circle cx="610.8" cy="934.2" r="3" fill="#0d9488" fill-opacity="0.7"/><circle cx="610.8" cy="972.2" r="3" fill="#0d9488" fill-opacity="0.7"/><circle cx="610.8" cy="976.3" r="3" fill="#0d9488" fill-opacity="0.7"/><circle cx="621.3" cy="971.2" r="3" fill="#0d9488" fill-opacity="0.7"/><circle cx="621.3" cy="927.2" r="3" fill="#0d9488" fill-opacity="0.7"/><circle cx="621.3" cy="968.5" r="3" fill="#0d9488" fill-opacity="0.7"/><circle cx="621.3" cy="971.6" r="3" fill="#0d9488" fill-opacity="0.7"/><circle cx="621.3" cy="973.9" r="3" fill="#0d9488" fill-opacity="0.7"/><circle cx="621.3" cy="975.3" r="3" fill="#0d9488" fill-opacity="0.7"/><circle cx="621.3" cy="969.9" r="3" fill="#0d9488" fill-opacity="0.7"/><circle cx="621.3" cy="955.8" r="3" fill="#0d9488" fill-opacity="0.7"/><circle cx="621.3" cy="969.5" r="3" fill="#0d9488" fill-opacity="0.7"/><circle cx="621.3" cy="967.9" r="3" fill="#0d9488" fill-opacity="0.7"/><circle cx="621.3" cy="975.3" r="3" fill="#0d9488" fill-opacity="0.7"/><circle cx="621.3" cy="963.5" r="3" fill="#0d9488" fill-opacity="0.7"/><circle cx="621.3" cy="975.0" r="3" fill="#0d9488" fill-opacity="0.7"/><circle cx="621.3" cy="975.2" r="3" fill="#0d9488" fill-opacity="0.7"/><circle cx="621.3" cy="970.6" r="3" fill="#0d9488" fill-opacity="0.7"/><circle cx="621.3" cy="968.5" r="3" fill="#0d9488" fill-opacity="0.7"/><circle cx="621.3" cy="974.2" r="3" fill="#0d9488" fill-opacity="0.7"/><circle cx="621.3" cy="968.1" r="3" fill="#0d9488" fill-opacity="0.7"/><circle cx="621.3" cy="922.0" r="3" fill="#0d9488" fill-opacity="0.7"/><circle cx="621.3" cy="971.0" r="3" fill="#0d9488" fill-opacity="0.7"/><circle cx="621.3" cy="971.5" r="3" fill="#0d9488" fill-opacity="0.7"/><circle cx="621.3" cy="930.3" r="3" fill="#0d9488" fill-opacity="0.7"/><circle cx="631.8" cy="967.9" r="3" fill="#0d9488" fill-opacity="0.7"/><circle cx="631.8" cy="973.5" r="3" fill="#0d9488" fill-opacity="0.7"/><circle cx="631.8" cy="970.4" r="3" fill="#0d9488" fill-opacity="0.7"/><circle cx="631.8" cy="974.7" r="3" fill="#0d9488" fill-opacity="0.7"/><circle cx="631.8" cy="968.1" r="3" fill="#0d9488" fill-opacity="0.7"/><circle cx="631.8" cy="968.7" r="3" fill="#0d9488" fill-opacity="0.7"/><circle cx="631.8" cy="969.0" r="3" fill="#0d9488" fill-opacity="0.7"/><circle cx="631.8" cy="968.3" r="3" fill="#0d9488" fill-opacity="0.7"/><circle cx="631.8" cy="972.6" r="3" fill="#0d9488" fill-opacity="0.7"/><circle cx="631.8" cy="968.6" r="3" fill="#0d9488" fill-opacity="0.7"/><circle cx="631.8" cy="969.7" r="3" fill="#0d9488" fill-opacity="0.7"/><circle cx="631.8" cy="969.8" r="3" fill="#0d9488" fill-opacity="0.7"/><circle cx="631.8" cy="974.9" r="3" fill="#0d9488" fill-opacity="0.7"/><circle cx="631.8" cy="961.7" r="3" fill="#0d9488" fill-opacity="0.7"/><circle cx="631.8" cy="975.0" r="3" fill="#0d9488" fill-opacity="0.7"/><circle cx="631.8" cy="974.8" r="3" fill="#0d9488" fill-opacity="0.7"/><circle cx="631.8" cy="972.2" r="3" fill="#0d9488" fill-opacity="0.7"/><circle cx="631.8" cy="973.8" r="3" fill="#0d9488" fill-opacity="0.7"/><circle cx="631.8" cy="926.0" r="3" fill="#0d9488" fill-opacity="0.7"/><circle cx="631.8" cy="974.9" r="3" fill="#0d9488" fill-opacity="0.7"/><circle cx="631.8" cy="967.6" r="3" fill="#0d9488" fill-opacity="0.7"/><circle cx="631.8" cy="968.2" r="3" fill="#0d9488" fill-opacity="0.7"/><circle cx="642.3" cy="973.6" r="3" fill="#0d9488" fill-opacity="0.7"/><circle cx="642.3" cy="971.0" r="3" fill="#0d9488" fill-opacity="0.7"/><circle cx="642.3" cy="951.7" r="3" fill="#0d9488" fill-opacity="0.7"/><circle cx="642.3" cy="969.3" r="3" fill="#0d9488" fill-opacity="0.7"/><circle cx="642.3" cy="971.4" r="3" fill="#0d9488" fill-opacity="0.7"/><circle cx="642.3" cy="925.2" r="3" fill="#0d9488" fill-opacity="0.7"/><circle cx="642.3" cy="969.8" r="3" fill="#0d9488" fill-opacity="0.7"/><circle cx="642.3" cy="967.0" r="3" fill="#0d9488" fill-opacity="0.7"/><circle cx="642.3" cy="973.7" r="3" fill="#0d9488" fill-opacity="0.7"/><circle cx="642.3" cy="957.5" r="3" fill="#0d9488" fill-opacity="0.7"/><circle cx="642.3" cy="973.6" r="3" fill="#0d9488" fill-opacity="0.7"/><circle cx="642.3" cy="971.8" r="3" fill="#0d9488" fill-opacity="0.7"/><circle cx="642.3" cy="973.8" r="3" fill="#0d9488" fill-opacity="0.7"/><circle cx="642.3" cy="970.6" r="3" fill="#0d9488" fill-opacity="0.7"/><circle cx="642.3" cy="972.6" r="3" fill="#0d9488" fill-opacity="0.7"/><circle cx="642.3" cy="969.0" r="3" fill="#0d9488" fill-opacity="0.7"/><circle cx="642.3" cy="971.4" r="3" fill="#0d9488" fill-opacity="0.7"/><circle cx="642.3" cy="973.4" r="3" fill="#0d9488" fill-opacity="0.7"/><circle cx="642.3" cy="971.2" r="3" fill="#0d9488" fill-opacity="0.7"/><circle cx="642.3" cy="971.5" r="3" fill="#0d9488" fill-opacity="0.7"/><circle cx="642.3" cy="967.0" r="3" fill="#0d9488" fill-opacity="0.7"/><circle cx="642.3" cy="968.5" r="3" fill="#0d9488" fill-opacity="0.7"/><circle cx="642.3" cy="971.4" r="3" fill="#0d9488" fill-opacity="0.7"/><circle cx="652.8" cy="969.8" r="3" fill="#0d9488" fill-opacity="0.7"/><circle cx="652.8" cy="971.7" r="3" fill="#0d9488" fill-opacity="0.7"/><circle cx="652.8" cy="955.8" r="3" fill="#0d9488" fill-opacity="0.7"/><circle cx="652.8" cy="973.6" r="3" fill="#0d9488" fill-opacity="0.7"/><circle cx="652.8" cy="974.0" r="3" fill="#0d9488" fill-opacity="0.7"/><circle cx="652.8" cy="967.1" r="3" fill="#0d9488" fill-opacity="0.7"/><circle cx="652.8" cy="973.4" r="3" fill="#0d9488" fill-opacity="0.7"/><circle cx="652.8" cy="953.3" r="3" fill="#0d9488" fill-opacity="0.7"/><circle cx="652.8" cy="968.3" r="3" fill="#0d9488" fill-opacity="0.7"/><circle cx="652.8" cy="937.4" r="3" fill="#0d9488" fill-opacity="0.7"/><circle cx="652.8" cy="941.3" r="3" fill="#0d9488" fill-opacity="0.7"/><circle cx="652.8" cy="969.7" r="3" fill="#0d9488" fill-opacity="0.7"/><circle cx="652.8" cy="967.2" r="3" fill="#0d9488" fill-opacity="0.7"/><circle cx="652.8" cy="967.2" r="3" fill="#0d9488" fill-opacity="0.7"/><circle cx="652.8" cy="970.5" r="3" fill="#0d9488" fill-opacity="0.7"/><circle cx="652.8" cy="973.2" r="3" fill="#0d9488" fill-opacity="0.7"/><circle cx="652.8" cy="972.6" r="3" fill="#0d9488" fill-opacity="0.7"/><circle cx="652.8" cy="969.5" r="3" fill="#0d9488" fill-opacity="0.7"/><circle cx="652.8" cy="974.1" r="3" fill="#0d9488" fill-opacity="0.7"/><circle cx="652.8" cy="966.8" r="3" fill="#0d9488" fill-opacity="0.7"/><circle cx="652.8" cy="925.7" r="3" fill="#0d9488" fill-opacity="0.7"/><circle cx="652.8" cy="972.9" r="3" fill="#0d9488" fill-opacity="0.7"/><circle cx="652.8" cy="969.6" r="3" fill="#0d9488" fill-opacity="0.7"/><circle cx="663.2" cy="971.0" r="3" fill="#0d9488" fill-opacity="0.7"/><circle cx="663.2" cy="972.2" r="3" fill="#0d9488" fill-opacity="0.7"/><circle cx="663.2" cy="967.1" r="3" fill="#0d9488" fill-opacity="0.7"/><circle cx="663.2" cy="973.3" r="3" fill="#0d9488" fill-opacity="0.7"/><circle cx="663.2" cy="969.6" r="3" fill="#0d9488" fill-opacity="0.7"/><circle cx="663.2" cy="967.6" r="3" fill="#0d9488" fill-opacity="0.7"/><circle cx="663.2" cy="972.5" r="3" fill="#0d9488" fill-opacity="0.7"/><circle cx="663.2" cy="969.2" r="3" fill="#0d9488" fill-opacity="0.7"/><circle cx="663.2" cy="969.7" r="3" fill="#0d9488" fill-opacity="0.7"/><circle cx="663.2" cy="966.8" r="3" fill="#0d9488" fill-opacity="0.7"/><circle cx="663.2" cy="968.5" r="3" fill="#0d9488" fill-opacity="0.7"/><circle cx="663.2" cy="971.1" r="3" fill="#0d9488" fill-opacity="0.7"/><circle cx="663.2" cy="915.6" r="3" fill="#0d9488" fill-opacity="0.7"/><circle cx="663.2" cy="970.6" r="3" fill="#0d9488" fill-opacity="0.7"/><circle cx="663.2" cy="965.6" r="3" fill="#0d9488" fill-opacity="0.7"/><circle cx="663.2" cy="928.0" r="3" fill="#0d9488" fill-opacity="0.7"/><circle cx="663.2" cy="940.3" r="3" fill="#0d9488" fill-opacity="0.7"/><circle cx="663.2" cy="971.9" r="3" fill="#0d9488" fill-opacity="0.7"/><circle cx="663.2" cy="970.3" r="3" fill="#0d9488" fill-opacity="0.7"/><circle cx="663.2" cy="969.0" r="3" fill="#0d9488" fill-opacity="0.7"/><circle cx="673.7" cy="940.1" r="3" fill="#0d9488" fill-opacity="0.7"/><circle cx="673.7" cy="971.0" r="3" fill="#0d9488" fill-opacity="0.7"/><circle cx="673.7" cy="969.8" r="3" fill="#0d9488" fill-opacity="0.7"/><circle cx="673.7" cy="972.8" r="3" fill="#0d9488" fill-opacity="0.7"/><circle cx="673.7" cy="966.2" r="3" fill="#0d9488" fill-opacity="0.7"/><circle cx="673.7" cy="967.8" r="3" fill="#0d9488" fill-opacity="0.7"/><circle cx="673.7" cy="970.3" r="3" fill="#0d9488" fill-opacity="0.7"/><circle cx="673.7" cy="967.0" r="3" fill="#0d9488" fill-opacity="0.7"/><circle cx="673.7" cy="967.7" r="3" fill="#0d9488" fill-opacity="0.7"/><circle cx="673.7" cy="972.7" r="3" fill="#0d9488" fill-opacity="0.7"/><circle cx="673.7" cy="972.4" r="3" fill="#0d9488" fill-opacity="0.7"/><circle cx="673.7" cy="968.6" r="3" fill="#0d9488" fill-opacity="0.7"/><circle cx="673.7" cy="968.2" r="3" fill="#0d9488" fill-opacity="0.7"/><circle cx="673.7" cy="966.9" r="3" fill="#0d9488" fill-opacity="0.7"/><circle cx="673.7" cy="971.5" r="3" fill="#0d9488" fill-opacity="0.7"/><circle cx="673.7" cy="932.4" r="3" fill="#0d9488" fill-opacity="0.7"/><circle cx="673.7" cy="970.7" r="3" fill="#0d9488" fill-opacity="0.7"/><circle cx="673.7" cy="966.2" r="3" fill="#0d9488" fill-opacity="0.7"/><circle cx="673.7" cy="968.7" r="3" fill="#0d9488" fill-opacity="0.7"/><circle cx="673.7" cy="969.5" r="3" fill="#0d9488" fill-opacity="0.7"/><circle cx="684.2" cy="931.5" r="3" fill="#0d9488" fill-opacity="0.7"/><circle cx="684.2" cy="969.3" r="3" fill="#0d9488" fill-opacity="0.7"/><circle cx="684.2" cy="965.4" r="3" fill="#0d9488" fill-opacity="0.7"/><circle cx="684.2" cy="967.9" r="3" fill="#0d9488" fill-opacity="0.7"/><circle cx="684.2" cy="965.6" r="3" fill="#0d9488" fill-opacity="0.7"/><circle cx="684.2" cy="965.0" r="3" fill="#0d9488" fill-opacity="0.7"/><circle cx="684.2" cy="969.0" r="3" fill="#0d9488" fill-opacity="0.7"/><circle cx="684.2" cy="967.2" r="3" fill="#0d9488" fill-opacity="0.7"/><circle cx="684.2" cy="965.7" r="3" fill="#0d9488" fill-opacity="0.7"/><circle cx="684.2" cy="965.2" r="3" fill="#0d9488" fill-opacity="0.7"/><circle cx="684.2" cy="967.8" r="3" fill="#0d9488" fill-opacity="0.7"/><circle cx="684.2" cy="943.0" r="3" fill="#0d9488" fill-opacity="0.7"/><circle cx="684.2" cy="969.3" r="3" fill="#0d9488" fill-opacity="0.7"/><circle cx="684.2" cy="971.7" r="3" fill="#0d9488" fill-opacity="0.7"/><circle cx="684.2" cy="927.4" r="3" fill="#0d9488" fill-opacity="0.7"/><circle cx="684.2" cy="956.7" r="3" fill="#0d9488" fill-opacity="0.7"/><circle cx="684.2" cy="965.7" r="3" fill="#0d9488" fill-opacity="0.7"/><circle cx="684.2" cy="971.8" r="3" fill="#0d9488" fill-opacity="0.7"/><circle cx="684.2" cy="966.8" r="3" fill="#0d9488" fill-opacity="0.7"/><circle cx="684.2" cy="946.1" r="3" fill="#0d9488" fill-opacity="0.7"/><circle cx="684.2" cy="969.4" r="3" fill="#0d9488" fill-opacity="0.7"/><circle cx="694.7" cy="966.9" r="3" fill="#0d9488" fill-opacity="0.7"/><circle cx="694.7" cy="967.5" r="3" fill="#0d9488" fill-opacity="0.7"/><circle cx="694.7" cy="963.8" r="3" fill="#0d9488" fill-opacity="0.7"/><circle cx="694.7" cy="967.7" r="3" fill="#0d9488" fill-opacity="0.7"/><circle cx="694.7" cy="964.4" r="3" fill="#0d9488" fill-opacity="0.7"/><circle cx="694.7" cy="971.1" r="3" fill="#0d9488" fill-opacity="0.7"/><circle cx="694.7" cy="970.8" r="3" fill="#0d9488" fill-opacity="0.7"/><circle cx="694.7" cy="966.9" r="3" fill="#0d9488" fill-opacity="0.7"/><circle cx="694.7" cy="966.7" r="3" fill="#0d9488" fill-opacity="0.7"/><circle cx="694.7" cy="968.0" r="3" fill="#0d9488" fill-opacity="0.7"/><circle cx="694.7" cy="970.9" r="3" fill="#0d9488" fill-opacity="0.7"/><circle cx="694.7" cy="970.5" r="3" fill="#0d9488" fill-opacity="0.7"/><circle cx="694.7" cy="965.1" r="3" fill="#0d9488" fill-opacity="0.7"/><circle cx="694.7" cy="945.2" r="3" fill="#0d9488" fill-opacity="0.7"/><circle cx="694.7" cy="966.6" r="3" fill="#0d9488" fill-opacity="0.7"/><circle cx="694.7" cy="971.4" r="3" fill="#0d9488" fill-opacity="0.7"/><circle cx="694.7" cy="970.0" r="3" fill="#0d9488" fill-opacity="0.7"/><circle cx="694.7" cy="969.6" r="3" fill="#0d9488" fill-opacity="0.7"/><circle cx="694.7" cy="965.8" r="3" fill="#0d9488" fill-opacity="0.7"/><circle cx="694.7" cy="937.6" r="3" fill="#0d9488" fill-opacity="0.7"/><circle cx="705.2" cy="968.2" r="3" fill="#0d9488" fill-opacity="0.7"/><circle cx="705.2" cy="963.3" r="3" fill="#0d9488" fill-opacity="0.7"/><circle cx="705.2" cy="964.4" r="3" fill="#0d9488" fill-opacity="0.7"/><circle cx="705.2" cy="940.1" r="3" fill="#0d9488" fill-opacity="0.7"/><circle cx="705.2" cy="965.0" r="3" fill="#0d9488" fill-opacity="0.7"/><circle cx="705.2" cy="964.6" r="3" fill="#0d9488" fill-opacity="0.7"/><circle cx="705.2" cy="969.0" r="3" fill="#0d9488" fill-opacity="0.7"/><circle cx="705.2" cy="968.1" r="3" fill="#0d9488" fill-opacity="0.7"/><circle cx="705.2" cy="967.4" r="3" fill="#0d9488" fill-opacity="0.7"/><circle cx="705.2" cy="964.6" r="3" fill="#0d9488" fill-opacity="0.7"/><circle cx="705.2" cy="914.8" r="3" fill="#0d9488" fill-opacity="0.7"/><circle cx="705.2" cy="965.5" r="3" fill="#0d9488" fill-opacity="0.7"/><circle cx="705.2" cy="963.6" r="3" fill="#0d9488" fill-opacity="0.7"/><circle cx="705.2" cy="956.1" r="3" fill="#0d9488" fill-opacity="0.7"/><circle cx="705.2" cy="965.3" r="3" fill="#0d9488" fill-opacity="0.7"/><circle cx="705.2" cy="968.4" r="3" fill="#0d9488" fill-opacity="0.7"/><circle cx="705.2" cy="967.1" r="3" fill="#0d9488" fill-opacity="0.7"/><circle cx="705.2" cy="969.4" r="3" fill="#0d9488" fill-opacity="0.7"/><circle cx="705.2" cy="966.3" r="3" fill="#0d9488" fill-opacity="0.7"/><circle cx="705.2" cy="963.7" r="3" fill="#0d9488" fill-opacity="0.7"/><circle cx="705.2" cy="966.5" r="3" fill="#0d9488" fill-opacity="0.7"/><circle cx="705.2" cy="968.8" r="3" fill="#0d9488" fill-opacity="0.7"/><circle cx="705.2" cy="970.7" r="3" fill="#0d9488" fill-opacity="0.7"/><circle cx="705.2" cy="919.0" r="3" fill="#0d9488" fill-opacity="0.7"/><circle cx="705.2" cy="968.1" r="3" fill="#0d9488" fill-opacity="0.7"/><circle cx="705.2" cy="966.1" r="3" fill="#0d9488" fill-opacity="0.7"/><circle cx="715.7" cy="965.8" r="3" fill="#0d9488" fill-opacity="0.7"/><circle cx="715.7" cy="963.1" r="3" fill="#0d9488" fill-opacity="0.7"/><circle cx="715.7" cy="963.2" r="3" fill="#0d9488" fill-opacity="0.7"/><circle cx="715.7" cy="965.1" r="3" fill="#0d9488" fill-opacity="0.7"/><circle cx="715.7" cy="968.0" r="3" fill="#0d9488" fill-opacity="0.7"/><circle cx="715.7" cy="969.0" r="3" fill="#0d9488" fill-opacity="0.7"/><circle cx="715.7" cy="963.6" r="3" fill="#0d9488" fill-opacity="0.7"/><circle cx="715.7" cy="964.7" r="3" fill="#0d9488" fill-opacity="0.7"/><circle cx="715.7" cy="963.9" r="3" fill="#0d9488" fill-opacity="0.7"/><circle cx="715.7" cy="969.4" r="3" fill="#0d9488" fill-opacity="0.7"/><circle cx="715.7" cy="929.8" r="3" fill="#0d9488" fill-opacity="0.7"/><circle cx="715.7" cy="966.7" r="3" fill="#0d9488" fill-opacity="0.7"/><circle cx="715.7" cy="967.7" r="3" fill="#0d9488" fill-opacity="0.7"/><circle cx="715.7" cy="967.0" r="3" fill="#0d9488" fill-opacity="0.7"/><circle cx="715.7" cy="966.4" r="3" fill="#0d9488" fill-opacity="0.7"/><circle cx="715.7" cy="968.5" r="3" fill="#0d9488" fill-opacity="0.7"/><circle cx="715.7" cy="964.0" r="3" fill="#0d9488" fill-opacity="0.7"/><circle cx="715.7" cy="947.8" r="3" fill="#0d9488" fill-opacity="0.7"/><circle cx="715.7" cy="963.1" r="3" fill="#0d9488" fill-opacity="0.7"/><circle cx="715.7" cy="965.5" r="3" fill="#0d9488" fill-opacity="0.7"/><circle cx="715.7" cy="968.1" r="3" fill="#0d9488" fill-opacity="0.7"/><circle cx="715.7" cy="966.2" r="3" fill="#0d9488" fill-opacity="0.7"/><circle cx="715.7" cy="955.0" r="3" fill="#0d9488" fill-opacity="0.7"/><circle cx="726.2" cy="964.6" r="3" fill="#0d9488" fill-opacity="0.7"/><circle cx="726.2" cy="962.2" r="3" fill="#0d9488" fill-opacity="0.7"/><circle cx="726.2" cy="963.9" r="3" fill="#0d9488" fill-opacity="0.7"/><circle cx="726.2" cy="957.3" r="3" fill="#0d9488" fill-opacity="0.7"/><circle cx="726.2" cy="962.4" r="3" fill="#0d9488" fill-opacity="0.7"/><circle cx="726.2" cy="964.9" r="3" fill="#0d9488" fill-opacity="0.7"/><circle cx="726.2" cy="964.6" r="3" fill="#0d9488" fill-opacity="0.7"/><circle cx="726.2" cy="969.2" r="3" fill="#0d9488" fill-opacity="0.7"/><circle cx="726.2" cy="964.2" r="3" fill="#0d9488" fill-opacity="0.7"/><circle cx="726.2" cy="965.7" r="3" fill="#0d9488" fill-opacity="0.7"/><circle cx="726.2" cy="928.8" r="3" fill="#0d9488" fill-opacity="0.7"/><circle cx="726.2" cy="968.7" r="3" fill="#0d9488" fill-opacity="0.7"/><circle cx="726.2" cy="966.9" r="3" fill="#0d9488" fill-opacity="0.7"/><circle cx="726.2" cy="963.1" r="3" fill="#0d9488" fill-opacity="0.7"/><circle cx="726.2" cy="965.3" r="3" fill="#0d9488" fill-opacity="0.7"/><circle cx="726.2" cy="969.8" r="3" fill="#0d9488" fill-opacity="0.7"/><circle cx="726.2" cy="969.4" r="3" fill="#0d9488" fill-opacity="0.7"/><circle cx="726.2" cy="966.8" r="3" fill="#0d9488" fill-opacity="0.7"/><circle cx="726.2" cy="963.8" r="3" fill="#0d9488" fill-opacity="0.7"/><circle cx="726.2" cy="966.0" r="3" fill="#0d9488" fill-opacity="0.7"/><circle cx="726.2" cy="969.8" r="3" fill="#0d9488" fill-opacity="0.7"/><circle cx="726.2" cy="969.1" r="3" fill="#0d9488" fill-opacity="0.7"/><circle cx="726.2" cy="913.8" r="3" fill="#0d9488" fill-opacity="0.7"/><circle cx="736.7" cy="964.9" r="3" fill="#0d9488" fill-opacity="0.7"/><circle cx="736.7" cy="965.6" r="3" fill="#0d9488" fill-opacity="0.7"/><circle cx="736.7" cy="963.5" r="3" fill="#0d9488" fill-opacity="0.7"/><circle cx="736.7" cy="952.0" r="3" fill="#0d9488" fill-opacity="0.7"/><circle cx="736.7" cy="965.4" r="3" fill="#0d9488" fill-opacity="0.7"/><circle cx="736.7" cy="966.5" r="3" fill="#0d9488" fill-opacity="0.7"/><circle cx="736.7" cy="969.0" r="3" fill="#0d9488" fill-opacity="0.7"/><circle cx="736.7" cy="968.1" r="3" fill="#0d9488" fill-opacity="0.7"/><circle cx="736.7" cy="961.0" r="3" fill="#0d9488" fill-opacity="0.7"/><circle cx="736.7" cy="968.5" r="3" fill="#0d9488" fill-opacity="0.7"/><circle cx="736.7" cy="964.8" r="3" fill="#0d9488" fill-opacity="0.7"/><circle cx="736.7" cy="955.2" r="3" fill="#0d9488" fill-opacity="0.7"/><circle cx="736.7" cy="954.7" r="3" fill="#0d9488" fill-opacity="0.7"/><circle cx="736.7" cy="965.6" r="3" fill="#0d9488" fill-opacity="0.7"/><circle cx="736.7" cy="961.6" r="3" fill="#0d9488" fill-opacity="0.7"/><circle cx="736.7" cy="965.4" r="3" fill="#0d9488" fill-opacity="0.7"/><circle cx="736.7" cy="964.3" r="3" fill="#0d9488" fill-opacity="0.7"/><circle cx="736.7" cy="917.8" r="3" fill="#0d9488" fill-opacity="0.7"/><circle cx="736.7" cy="962.6" r="3" fill="#0d9488" fill-opacity="0.7"/><circle cx="736.7" cy="966.8" r="3" fill="#0d9488" fill-opacity="0.7"/><circle cx="736.7" cy="961.3" r="3" fill="#0d9488" fill-opacity="0.7"/><circle cx="736.7" cy="964.5" r="3" fill="#0d9488" fill-opacity="0.7"/><circle cx="736.7" cy="969.0" r="3" fill="#0d9488" fill-opacity="0.7"/><circle cx="736.7" cy="965.3" r="3" fill="#0d9488" fill-opacity="0.7"/><circle cx="747.2" cy="960.5" r="3" fill="#0d9488" fill-opacity="0.7"/><circle cx="747.2" cy="967.3" r="3" fill="#0d9488" fill-opacity="0.7"/><circle cx="747.2" cy="962.7" r="3" fill="#0d9488" fill-opacity="0.7"/><circle cx="747.2" cy="967.1" r="3" fill="#0d9488" fill-opacity="0.7"/><circle cx="747.2" cy="966.7" r="3" fill="#0d9488" fill-opacity="0.7"/><circle cx="747.2" cy="967.5" r="3" fill="#0d9488" fill-opacity="0.7"/><circle cx="747.2" cy="955.9" r="3" fill="#0d9488" fill-opacity="0.7"/><circle cx="747.2" cy="965.9" r="3" fill="#0d9488" fill-opacity="0.7"/><circle cx="747.2" cy="962.5" r="3" fill="#0d9488" fill-opacity="0.7"/><circle cx="747.2" cy="965.4" r="3" fill="#0d9488" fill-opacity="0.7"/><circle cx="747.2" cy="933.9" r="3" fill="#0d9488" fill-opacity="0.7"/><circle cx="747.2" cy="964.9" r="3" fill="#0d9488" fill-opacity="0.7"/><circle cx="747.2" cy="966.2" r="3" fill="#0d9488" fill-opacity="0.7"/><circle cx="747.2" cy="967.8" r="3" fill="#0d9488" fill-opacity="0.7"/><circle cx="747.2" cy="960.6" r="3" fill="#0d9488" fill-opacity="0.7"/><circle cx="747.2" cy="961.2" r="3" fill="#0d9488" fill-opacity="0.7"/><circle cx="747.2" cy="962.2" r="3" fill="#0d9488" fill-opacity="0.7"/><circle cx="747.2" cy="968.4" r="3" fill="#0d9488" fill-opacity="0.7"/><circle cx="747.2" cy="962.1" r="3" fill="#0d9488" fill-opacity="0.7"/><circle cx="747.2" cy="963.7" r="3" fill="#0d9488" fill-opacity="0.7"/><circle cx="747.2" cy="968.3" r="3" fill="#0d9488" fill-opacity="0.7"/><circle cx="747.2" cy="961.4" r="3" fill="#0d9488" fill-opacity="0.7"/><circle cx="757.7" cy="944.4" r="3" fill="#0d9488" fill-opacity="0.7"/><circle cx="757.7" cy="964.8" r="3" fill="#0d9488" fill-opacity="0.7"/><circle cx="757.7" cy="962.3" r="3" fill="#0d9488" fill-opacity="0.7"/><circle cx="757.7" cy="965.0" r="3" fill="#0d9488" fill-opacity="0.7"/><circle cx="757.7" cy="966.2" r="3" fill="#0d9488" fill-opacity="0.7"/><circle cx="757.7" cy="961.1" r="3" fill="#0d9488" fill-opacity="0.7"/><circle cx="757.7" cy="961.4" r="3" fill="#0d9488" fill-opacity="0.7"/><circle cx="757.7" cy="966.6" r="3" fill="#0d9488" fill-opacity="0.7"/><circle cx="757.7" cy="961.4" r="3" fill="#0d9488" fill-opacity="0.7"/><circle cx="757.7" cy="963.7" r="3" fill="#0d9488" fill-opacity="0.7"/><circle cx="757.7" cy="965.7" r="3" fill="#0d9488" fill-opacity="0.7"/><circle cx="757.7" cy="966.0" r="3" fill="#0d9488" fill-opacity="0.7"/><circle cx="757.7" cy="966.3" r="3" fill="#0d9488" fill-opacity="0.7"/><circle cx="757.7" cy="936.8" r="3" fill="#0d9488" fill-opacity="0.7"/><circle cx="757.7" cy="964.0" r="3" fill="#0d9488" fill-opacity="0.7"/><circle cx="757.7" cy="960.5" r="3" fill="#0d9488" fill-opacity="0.7"/><circle cx="757.7" cy="962.0" r="3" fill="#0d9488" fill-opacity="0.7"/><circle cx="757.7" cy="944.5" r="3" fill="#0d9488" fill-opacity="0.7"/><circle cx="757.7" cy="966.5" r="3" fill="#0d9488" fill-opacity="0.7"/><circle cx="757.7" cy="940.9" r="3" fill="#0d9488" fill-opacity="0.7"/><circle cx="757.7" cy="963.9" r="3" fill="#0d9488" fill-opacity="0.7"/><circle cx="757.7" cy="964.0" r="3" fill="#0d9488" fill-opacity="0.7"/><circle cx="757.7" cy="916.3" r="3" fill="#0d9488" fill-opacity="0.7"/><circle cx="757.7" cy="959.7" r="3" fill="#0d9488" fill-opacity="0.7"/><circle cx="757.7" cy="962.6" r="3" fill="#0d9488" fill-opacity="0.7"/><circle cx="768.1" cy="960.1" r="3" fill="#0d9488" fill-opacity="0.7"/><circle cx="768.1" cy="962.6" r="3" fill="#0d9488" fill-opacity="0.7"/><circle cx="768.1" cy="960.7" r="3" fill="#0d9488" fill-opacity="0.7"/><circle cx="768.1" cy="959.8" r="3" fill="#0d9488" fill-opacity="0.7"/><circle cx="768.1" cy="961.9" r="3" fill="#0d9488" fill-opacity="0.7"/><circle cx="768.1" cy="918.9" r="3" fill="#0d9488" fill-opacity="0.7"/><circle cx="768.1" cy="962.9" r="3" fill="#0d9488" fill-opacity="0.7"/><circle cx="768.1" cy="930.5" r="3" fill="#0d9488" fill-opacity="0.7"/><circle cx="768.1" cy="960.7" r="3" fill="#0d9488" fill-opacity="0.7"/><circle cx="768.1" cy="961.8" r="3" fill="#0d9488" fill-opacity="0.7"/><circle cx="768.1" cy="965.5" r="3" fill="#0d9488" fill-opacity="0.7"/><circle cx="768.1" cy="962.9" r="3" fill="#0d9488" fill-opacity="0.7"/><circle cx="768.1" cy="964.7" r="3" fill="#0d9488" fill-opacity="0.7"/><circle cx="768.1" cy="960.0" r="3" fill="#0d9488" fill-opacity="0.7"/><circle cx="768.1" cy="962.2" r="3" fill="#0d9488" fill-opacity="0.7"/><circle cx="768.1" cy="912.1" r="3" fill="#0d9488" fill-opacity="0.7"/><circle cx="768.1" cy="947.1" r="3" fill="#0d9488" fill-opacity="0.7"/><circle cx="768.1" cy="965.0" r="3" fill="#0d9488" fill-opacity="0.7"/><circle cx="768.1" cy="963.6" r="3" fill="#0d9488" fill-opacity="0.7"/><circle cx="778.6" cy="964.4" r="3" fill="#0d9488" fill-opacity="0.7"/><circle cx="778.6" cy="965.8" r="3" fill="#0d9488" fill-opacity="0.7"/><circle cx="778.6" cy="966.4" r="3" fill="#0d9488" fill-opacity="0.7"/><circle cx="778.6" cy="952.8" r="3" fill="#0d9488" fill-opacity="0.7"/><circle cx="778.6" cy="962.5" r="3" fill="#0d9488" fill-opacity="0.7"/><circle cx="778.6" cy="959.6" r="3" fill="#0d9488" fill-opacity="0.7"/><circle cx="778.6" cy="959.0" r="3" fill="#0d9488" fill-opacity="0.7"/><circle cx="778.6" cy="966.1" r="3" fill="#0d9488" fill-opacity="0.7"/><circle cx="778.6" cy="935.7" r="3" fill="#0d9488" fill-opacity="0.7"/><circle cx="778.6" cy="963.3" r="3" fill="#0d9488" fill-opacity="0.7"/><circle cx="778.6" cy="966.0" r="3" fill="#0d9488" fill-opacity="0.7"/><circle cx="778.6" cy="960.1" r="3" fill="#0d9488" fill-opacity="0.7"/><circle cx="778.6" cy="962.1" r="3" fill="#0d9488" fill-opacity="0.7"/><circle cx="778.6" cy="947.4" r="3" fill="#0d9488" fill-opacity="0.7"/><circle cx="778.6" cy="964.0" r="3" fill="#0d9488" fill-opacity="0.7"/><circle cx="778.6" cy="964.2" r="3" fill="#0d9488" fill-opacity="0.7"/><circle cx="778.6" cy="961.8" r="3" fill="#0d9488" fill-opacity="0.7"/><circle cx="778.6" cy="919.8" r="3" fill="#0d9488" fill-opacity="0.7"/><circle cx="778.6" cy="963.5" r="3" fill="#0d9488" fill-opacity="0.7"/><circle cx="778.6" cy="965.7" r="3" fill="#0d9488" fill-opacity="0.7"/><circle cx="778.6" cy="963.4" r="3" fill="#0d9488" fill-opacity="0.7"/><circle cx="778.6" cy="962.7" r="3" fill="#0d9488" fill-opacity="0.7"/><circle cx="778.6" cy="912.3" r="3" fill="#0d9488" fill-opacity="0.7"/><circle cx="789.1" cy="958.1" r="3" fill="#0d9488" fill-opacity="0.7"/><circle cx="789.1" cy="959.7" r="3" fill="#0d9488" fill-opacity="0.7"/><circle cx="789.1" cy="957.7" r="3" fill="#0d9488" fill-opacity="0.7"/><circle cx="789.1" cy="933.7" r="3" fill="#0d9488" fill-opacity="0.7"/><circle cx="789.1" cy="959.1" r="3" fill="#0d9488" fill-opacity="0.7"/><circle cx="789.1" cy="962.2" r="3" fill="#0d9488" fill-opacity="0.7"/><circle cx="789.1" cy="919.6" r="3" fill="#0d9488" fill-opacity="0.7"/><circle cx="789.1" cy="962.6" r="3" fill="#0d9488" fill-opacity="0.7"/><circle cx="789.1" cy="924.5" r="3" fill="#0d9488" fill-opacity="0.7"/><circle cx="789.1" cy="964.0" r="3" fill="#0d9488" fill-opacity="0.7"/><circle cx="789.1" cy="964.8" r="3" fill="#0d9488" fill-opacity="0.7"/><circle cx="789.1" cy="963.9" r="3" fill="#0d9488" fill-opacity="0.7"/><circle cx="789.1" cy="962.1" r="3" fill="#0d9488" fill-opacity="0.7"/><circle cx="789.1" cy="959.5" r="3" fill="#0d9488" fill-opacity="0.7"/><circle cx="789.1" cy="959.2" r="3" fill="#0d9488" fill-opacity="0.7"/><circle cx="789.1" cy="964.6" r="3" fill="#0d9488" fill-opacity="0.7"/><circle cx="789.1" cy="960.2" r="3" fill="#0d9488" fill-opacity="0.7"/><circle cx="789.1" cy="961.0" r="3" fill="#0d9488" fill-opacity="0.7"/><circle cx="789.1" cy="962.3" r="3" fill="#0d9488" fill-opacity="0.7"/><circle cx="789.1" cy="958.4" r="3" fill="#0d9488" fill-opacity="0.7"/><circle cx="789.1" cy="960.6" r="3" fill="#0d9488" fill-opacity="0.7"/><circle cx="789.1" cy="960.7" r="3" fill="#0d9488" fill-opacity="0.7"/><circle cx="789.1" cy="943.2" r="3" fill="#0d9488" fill-opacity="0.7"/><circle cx="789.1" cy="963.6" r="3" fill="#0d9488" fill-opacity="0.7"/><circle cx="799.6" cy="960.1" r="3" fill="#0d9488" fill-opacity="0.7"/><circle cx="799.6" cy="930.2" r="3" fill="#0d9488" fill-opacity="0.7"/><circle cx="799.6" cy="964.1" r="3" fill="#0d9488" fill-opacity="0.7"/><circle cx="799.6" cy="957.8" r="3" fill="#0d9488" fill-opacity="0.7"/><circle cx="799.6" cy="957.6" r="3" fill="#0d9488" fill-opacity="0.7"/><circle cx="799.6" cy="959.3" r="3" fill="#0d9488" fill-opacity="0.7"/><circle cx="799.6" cy="957.8" r="3" fill="#0d9488" fill-opacity="0.7"/><circle cx="799.6" cy="964.6" r="3" fill="#0d9488" fill-opacity="0.7"/><circle cx="799.6" cy="961.8" r="3" fill="#0d9488" fill-opacity="0.7"/><circle cx="799.6" cy="964.2" r="3" fill="#0d9488" fill-opacity="0.7"/><circle cx="799.6" cy="963.8" r="3" fill="#0d9488" fill-opacity="0.7"/><circle cx="799.6" cy="958.2" r="3" fill="#0d9488" fill-opacity="0.7"/><circle cx="799.6" cy="961.8" r="3" fill="#0d9488" fill-opacity="0.7"/><circle cx="799.6" cy="962.3" r="3" fill="#0d9488" fill-opacity="0.7"/><circle cx="799.6" cy="963.3" r="3" fill="#0d9488" fill-opacity="0.7"/><circle cx="799.6" cy="961.9" r="3" fill="#0d9488" fill-opacity="0.7"/><circle cx="799.6" cy="962.8" r="3" fill="#0d9488" fill-opacity="0.7"/><circle cx="799.6" cy="963.8" r="3" fill="#0d9488" fill-opacity="0.7"/><circle cx="799.6" cy="964.1" r="3" fill="#0d9488" fill-opacity="0.7"/><circle cx="799.6" cy="959.1" r="3" fill="#0d9488" fill-opacity="0.7"/><circle cx="799.6" cy="963.8" r="3" fill="#0d9488" fill-opacity="0.7"/><circle cx="810.1" cy="963.2" r="3" fill="#0d9488" fill-opacity="0.7"/><circle cx="810.1" cy="956.1" r="3" fill="#0d9488" fill-opacity="0.7"/><circle cx="810.1" cy="956.5" r="3" fill="#0d9488" fill-opacity="0.7"/><circle cx="810.1" cy="963.2" r="3" fill="#0d9488" fill-opacity="0.7"/><circle cx="810.1" cy="962.7" r="3" fill="#0d9488" fill-opacity="0.7"/><circle cx="810.1" cy="958.1" r="3" fill="#0d9488" fill-opacity="0.7"/><circle cx="810.1" cy="963.4" r="3" fill="#0d9488" fill-opacity="0.7"/><circle cx="810.1" cy="963.4" r="3" fill="#0d9488" fill-opacity="0.7"/><circle cx="810.1" cy="957.3" r="3" fill="#0d9488" fill-opacity="0.7"/><circle cx="810.1" cy="959.7" r="3" fill="#0d9488" fill-opacity="0.7"/><circle cx="810.1" cy="963.7" r="3" fill="#0d9488" fill-opacity="0.7"/><circle cx="810.1" cy="956.8" r="3" fill="#0d9488" fill-opacity="0.7"/><circle cx="810.1" cy="962.8" r="3" fill="#0d9488" fill-opacity="0.7"/><circle cx="810.1" cy="950.6" r="3" fill="#0d9488" fill-opacity="0.7"/><circle cx="810.1" cy="961.3" r="3" fill="#0d9488" fill-opacity="0.7"/><circle cx="810.1" cy="956.7" r="3" fill="#0d9488" fill-opacity="0.7"/><circle cx="810.1" cy="961.3" r="3" fill="#0d9488" fill-opacity="0.7"/><circle cx="810.1" cy="962.3" r="3" fill="#0d9488" fill-opacity="0.7"/><circle cx="810.1" cy="929.1" r="3" fill="#0d9488" fill-opacity="0.7"/><circle cx="810.1" cy="959.1" r="3" fill="#0d9488" fill-opacity="0.7"/><circle cx="810.1" cy="962.9" r="3" fill="#0d9488" fill-opacity="0.7"/><circle cx="810.1" cy="958.6" r="3" fill="#0d9488" fill-opacity="0.7"/><circle cx="810.1" cy="964.0" r="3" fill="#0d9488" fill-opacity="0.7"/><circle cx="810.1" cy="959.2" r="3" fill="#0d9488" fill-opacity="0.7"/><circle cx="810.1" cy="957.8" r="3" fill="#0d9488" fill-opacity="0.7"/><circle cx="810.1" cy="959.0" r="3" fill="#0d9488" fill-opacity="0.7"/><circle cx="820.6" cy="950.6" r="3" fill="#0d9488" fill-opacity="0.7"/><circle cx="820.6" cy="950.2" r="3" fill="#0d9488" fill-opacity="0.7"/><circle cx="820.6" cy="956.7" r="3" fill="#0d9488" fill-opacity="0.7"/><circle cx="820.6" cy="957.0" r="3" fill="#0d9488" fill-opacity="0.7"/><circle cx="820.6" cy="957.7" r="3" fill="#0d9488" fill-opacity="0.7"/><circle cx="820.6" cy="957.5" r="3" fill="#0d9488" fill-opacity="0.7"/><circle cx="820.6" cy="958.5" r="3" fill="#0d9488" fill-opacity="0.7"/><circle cx="820.6" cy="957.6" r="3" fill="#0d9488" fill-opacity="0.7"/><circle cx="820.6" cy="960.9" r="3" fill="#0d9488" fill-opacity="0.7"/><circle cx="820.6" cy="934.7" r="3" fill="#0d9488" fill-opacity="0.7"/><circle cx="820.6" cy="957.3" r="3" fill="#0d9488" fill-opacity="0.7"/><circle cx="820.6" cy="957.0" r="3" fill="#0d9488" fill-opacity="0.7"/><circle cx="820.6" cy="960.0" r="3" fill="#0d9488" fill-opacity="0.7"/><circle cx="820.6" cy="944.2" r="3" fill="#0d9488" fill-opacity="0.7"/><circle cx="820.6" cy="961.3" r="3" fill="#0d9488" fill-opacity="0.7"/><circle cx="820.6" cy="956.8" r="3" fill="#0d9488" fill-opacity="0.7"/><circle cx="820.6" cy="958.0" r="3" fill="#0d9488" fill-opacity="0.7"/><circle cx="820.6" cy="936.8" r="3" fill="#0d9488" fill-opacity="0.7"/><circle cx="820.6" cy="961.5" r="3" fill="#0d9488" fill-opacity="0.7"/><circle cx="831.1" cy="956.4" r="3" fill="#0d9488" fill-opacity="0.7"/><circle cx="831.1" cy="955.1" r="3" fill="#0d9488" fill-opacity="0.7"/><circle cx="831.1" cy="956.3" r="3" fill="#0d9488" fill-opacity="0.7"/><circle cx="831.1" cy="954.6" r="3" fill="#0d9488" fill-opacity="0.7"/><circle cx="831.1" cy="959.1" r="3" fill="#0d9488" fill-opacity="0.7"/><circle cx="831.1" cy="956.2" r="3" fill="#0d9488" fill-opacity="0.7"/><circle cx="831.1" cy="960.4" r="3" fill="#0d9488" fill-opacity="0.7"/><circle cx="831.1" cy="958.2" r="3" fill="#0d9488" fill-opacity="0.7"/><circle cx="831.1" cy="941.8" r="3" fill="#0d9488" fill-opacity="0.7"/><circle cx="831.1" cy="959.9" r="3" fill="#0d9488" fill-opacity="0.7"/><circle cx="831.1" cy="918.4" r="3" fill="#0d9488" fill-opacity="0.7"/><circle cx="831.1" cy="955.5" r="3" fill="#0d9488" fill-opacity="0.7"/><circle cx="831.1" cy="958.0" r="3" fill="#0d9488" fill-opacity="0.7"/><circle cx="831.1" cy="945.4" r="3" fill="#0d9488" fill-opacity="0.7"/><circle cx="831.1" cy="956.3" r="3" fill="#0d9488" fill-opacity="0.7"/><circle cx="831.1" cy="956.3" r="3" fill="#0d9488" fill-opacity="0.7"/><circle cx="831.1" cy="954.6" r="3" fill="#0d9488" fill-opacity="0.7"/><circle cx="831.1" cy="962.0" r="3" fill="#0d9488" fill-opacity="0.7"/><circle cx="831.1" cy="954.9" r="3" fill="#0d9488" fill-opacity="0.7"/><circle cx="831.1" cy="955.3" r="3" fill="#0d9488" fill-opacity="0.7"/><circle cx="831.1" cy="959.2" r="3" fill="#0d9488" fill-opacity="0.7"/><circle cx="831.1" cy="957.1" r="3" fill="#0d9488" fill-opacity="0.7"/><circle cx="831.1" cy="956.5" r="3" fill="#0d9488" fill-opacity="0.7"/><circle cx="841.6" cy="956.0" r="3" fill="#0d9488" fill-opacity="0.7"/><circle cx="841.6" cy="961.2" r="3" fill="#0d9488" fill-opacity="0.7"/><circle cx="841.6" cy="959.4" r="3" fill="#0d9488" fill-opacity="0.7"/><circle cx="841.6" cy="954.0" r="3" fill="#0d9488" fill-opacity="0.7"/><circle cx="841.6" cy="960.9" r="3" fill="#0d9488" fill-opacity="0.7"/><circle cx="841.6" cy="960.4" r="3" fill="#0d9488" fill-opacity="0.7"/><circle cx="841.6" cy="959.3" r="3" fill="#0d9488" fill-opacity="0.7"/><circle cx="841.6" cy="961.0" r="3" fill="#0d9488" fill-opacity="0.7"/><circle cx="841.6" cy="957.9" r="3" fill="#0d9488" fill-opacity="0.7"/><circle cx="841.6" cy="955.8" r="3" fill="#0d9488" fill-opacity="0.7"/><circle cx="841.6" cy="958.5" r="3" fill="#0d9488" fill-opacity="0.7"/><circle cx="841.6" cy="956.3" r="3" fill="#0d9488" fill-opacity="0.7"/><circle cx="841.6" cy="958.2" r="3" fill="#0d9488" fill-opacity="0.7"/><circle cx="841.6" cy="955.0" r="3" fill="#0d9488" fill-opacity="0.7"/><circle cx="841.6" cy="960.9" r="3" fill="#0d9488" fill-opacity="0.7"/><circle cx="841.6" cy="953.9" r="3" fill="#0d9488" fill-opacity="0.7"/><circle cx="841.6" cy="959.5" r="3" fill="#0d9488" fill-opacity="0.7"/><circle cx="841.6" cy="960.1" r="3" fill="#0d9488" fill-opacity="0.7"/><circle cx="841.6" cy="961.4" r="3" fill="#0d9488" fill-opacity="0.7"/><circle cx="841.6" cy="949.3" r="3" fill="#0d9488" fill-opacity="0.7"/><circle cx="841.6" cy="960.3" r="3" fill="#0d9488" fill-opacity="0.7"/><circle cx="841.6" cy="958.9" r="3" fill="#0d9488" fill-opacity="0.7"/><circle cx="841.6" cy="957.1" r="3" fill="#0d9488" fill-opacity="0.7"/><circle cx="852.1" cy="959.1" r="3" fill="#0d9488" fill-opacity="0.7"/><circle cx="852.1" cy="937.2" r="3" fill="#0d9488" fill-opacity="0.7"/><circle cx="852.1" cy="913.2" r="3" fill="#0d9488" fill-opacity="0.7"/><circle cx="852.1" cy="958.8" r="3" fill="#0d9488" fill-opacity="0.7"/><circle cx="852.1" cy="908.5" r="3" fill="#0d9488" fill-opacity="0.7"/><circle cx="852.1" cy="933.3" r="3" fill="#0d9488" fill-opacity="0.7"/><circle cx="852.1" cy="961.1" r="3" fill="#0d9488" fill-opacity="0.7"/><circle cx="852.1" cy="958.1" r="3" fill="#0d9488" fill-opacity="0.7"/><circle cx="852.1" cy="955.0" r="3" fill="#0d9488" fill-opacity="0.7"/><circle cx="852.1" cy="956.8" r="3" fill="#0d9488" fill-opacity="0.7"/><circle cx="852.1" cy="957.4" r="3" fill="#0d9488" fill-opacity="0.7"/><circle cx="852.1" cy="959.0" r="3" fill="#0d9488" fill-opacity="0.7"/><circle cx="852.1" cy="953.7" r="3" fill="#0d9488" fill-opacity="0.7"/><circle cx="852.1" cy="960.3" r="3" fill="#0d9488" fill-opacity="0.7"/><circle cx="852.1" cy="955.3" r="3" fill="#0d9488" fill-opacity="0.7"/><circle cx="852.1" cy="956.9" r="3" fill="#0d9488" fill-opacity="0.7"/><circle cx="852.1" cy="957.5" r="3" fill="#0d9488" fill-opacity="0.7"/><circle cx="852.1" cy="957.8" r="3" fill="#0d9488" fill-opacity="0.7"/><circle cx="852.1" cy="923.2" r="3" fill="#0d9488" fill-opacity="0.7"/><circle cx="852.1" cy="954.8" r="3" fill="#0d9488" fill-opacity="0.7"/><circle cx="852.1" cy="901.0" r="3" fill="#0d9488" fill-opacity="0.7"/><circle cx="852.1" cy="956.8" r="3" fill="#0d9488" fill-opacity="0.7"/><circle cx="852.1" cy="955.4" r="3" fill="#0d9488" fill-opacity="0.7"/><circle cx="852.1" cy="958.7" r="3" fill="#0d9488" fill-opacity="0.7"/><circle cx="852.1" cy="953.8" r="3" fill="#0d9488" fill-opacity="0.7"/><circle cx="852.1" cy="956.7" r="3" fill="#0d9488" fill-opacity="0.7"/><circle cx="862.6" cy="958.4" r="3" fill="#0d9488" fill-opacity="0.7"/><circle cx="862.6" cy="960.1" r="3" fill="#0d9488" fill-opacity="0.7"/><circle cx="862.6" cy="959.7" r="3" fill="#0d9488" fill-opacity="0.7"/><circle cx="862.6" cy="959.2" r="3" fill="#0d9488" fill-opacity="0.7"/><circle cx="862.6" cy="956.7" r="3" fill="#0d9488" fill-opacity="0.7"/><circle cx="862.6" cy="954.8" r="3" fill="#0d9488" fill-opacity="0.7"/><circle cx="862.6" cy="958.4" r="3" fill="#0d9488" fill-opacity="0.7"/><circle cx="862.6" cy="957.9" r="3" fill="#0d9488" fill-opacity="0.7"/><circle cx="862.6" cy="952.8" r="3" fill="#0d9488" fill-opacity="0.7"/><circle cx="862.6" cy="903.0" r="3" fill="#0d9488" fill-opacity="0.7"/><circle cx="862.6" cy="901.7" r="3" fill="#0d9488" fill-opacity="0.7"/><circle cx="862.6" cy="958.7" r="3" fill="#0d9488" fill-opacity="0.7"/><circle cx="862.6" cy="939.4" r="3" fill="#0d9488" fill-opacity="0.7"/><circle cx="862.6" cy="955.4" r="3" fill="#0d9488" fill-opacity="0.7"/><circle cx="862.6" cy="954.5" r="3" fill="#0d9488" fill-opacity="0.7"/><circle cx="862.6" cy="960.1" r="3" fill="#0d9488" fill-opacity="0.7"/><circle cx="862.6" cy="955.4" r="3" fill="#0d9488" fill-opacity="0.7"/><circle cx="862.6" cy="920.3" r="3" fill="#0d9488" fill-opacity="0.7"/><circle cx="862.6" cy="921.2" r="3" fill="#0d9488" fill-opacity="0.7"/><circle cx="862.6" cy="957.6" r="3" fill="#0d9488" fill-opacity="0.7"/><circle cx="862.6" cy="959.2" r="3" fill="#0d9488" fill-opacity="0.7"/><circle cx="862.6" cy="953.3" r="3" fill="#0d9488" fill-opacity="0.7"/><circle cx="862.6" cy="954.6" r="3" fill="#0d9488" fill-opacity="0.7"/><circle cx="862.6" cy="958.0" r="3" fill="#0d9488" fill-opacity="0.7"/><circle cx="873.0" cy="953.5" r="3" fill="#0d9488" fill-opacity="0.7"/><circle cx="873.0" cy="956.2" r="3" fill="#0d9488" fill-opacity="0.7"/><circle cx="873.0" cy="957.0" r="3" fill="#0d9488" fill-opacity="0.7"/><circle cx="873.0" cy="955.9" r="3" fill="#0d9488" fill-opacity="0.7"/><circle cx="873.0" cy="958.8" r="3" fill="#0d9488" fill-opacity="0.7"/><circle cx="873.0" cy="957.3" r="3" fill="#0d9488" fill-opacity="0.7"/><circle cx="873.0" cy="954.5" r="3" fill="#0d9488" fill-opacity="0.7"/><circle cx="873.0" cy="958.9" r="3" fill="#0d9488" fill-opacity="0.7"/><circle cx="873.0" cy="957.3" r="3" fill="#0d9488" fill-opacity="0.7"/><circle cx="873.0" cy="952.6" r="3" fill="#0d9488" fill-opacity="0.7"/><circle cx="873.0" cy="959.1" r="3" fill="#0d9488" fill-opacity="0.7"/><circle cx="873.0" cy="899.8" r="3" fill="#0d9488" fill-opacity="0.7"/><circle cx="873.0" cy="955.6" r="3" fill="#0d9488" fill-opacity="0.7"/><circle cx="873.0" cy="958.4" r="3" fill="#0d9488" fill-opacity="0.7"/><circle cx="873.0" cy="958.2" r="3" fill="#0d9488" fill-opacity="0.7"/><circle cx="873.0" cy="951.5" r="3" fill="#0d9488" fill-opacity="0.7"/><circle cx="873.0" cy="956.3" r="3" fill="#0d9488" fill-opacity="0.7"/><circle cx="873.0" cy="953.9" r="3" fill="#0d9488" fill-opacity="0.7"/><circle cx="873.0" cy="957.4" r="3" fill="#0d9488" fill-opacity="0.7"/><circle cx="873.0" cy="946.7" r="3" fill="#0d9488" fill-opacity="0.7"/><circle cx="873.0" cy="954.7" r="3" fill="#0d9488" fill-opacity="0.7"/><circle cx="873.0" cy="957.6" r="3" fill="#0d9488" fill-opacity="0.7"/><circle cx="873.0" cy="959.1" r="3" fill="#0d9488" fill-opacity="0.7"/><circle cx="873.0" cy="955.8" r="3" fill="#0d9488" fill-opacity="0.7"/><circle cx="883.5" cy="958.0" r="3" fill="#0d9488" fill-opacity="0.7"/><circle cx="883.5" cy="956.4" r="3" fill="#0d9488" fill-opacity="0.7"/><circle cx="883.5" cy="953.1" r="3" fill="#0d9488" fill-opacity="0.7"/><circle cx="883.5" cy="955.7" r="3" fill="#0d9488" fill-opacity="0.7"/><circle cx="883.5" cy="953.2" r="3" fill="#0d9488" fill-opacity="0.7"/><circle cx="883.5" cy="942.6" r="3" fill="#0d9488" fill-opacity="0.7"/><circle cx="883.5" cy="953.0" r="3" fill="#0d9488" fill-opacity="0.7"/><circle cx="883.5" cy="954.7" r="3" fill="#0d9488" fill-opacity="0.7"/><circle cx="883.5" cy="953.5" r="3" fill="#0d9488" fill-opacity="0.7"/><circle cx="883.5" cy="942.4" r="3" fill="#0d9488" fill-opacity="0.7"/><circle cx="883.5" cy="958.1" r="3" fill="#0d9488" fill-opacity="0.7"/><circle cx="883.5" cy="953.3" r="3" fill="#0d9488" fill-opacity="0.7"/><circle cx="883.5" cy="951.0" r="3" fill="#0d9488" fill-opacity="0.7"/><circle cx="883.5" cy="956.6" r="3" fill="#0d9488" fill-opacity="0.7"/><circle cx="883.5" cy="955.1" r="3" fill="#0d9488" fill-opacity="0.7"/><circle cx="883.5" cy="958.1" r="3" fill="#0d9488" fill-opacity="0.7"/><circle cx="883.5" cy="956.4" r="3" fill="#0d9488" fill-opacity="0.7"/><circle cx="883.5" cy="958.1" r="3" fill="#0d9488" fill-opacity="0.7"/><circle cx="883.5" cy="920.6" r="3" fill="#0d9488" fill-opacity="0.7"/><circle cx="883.5" cy="955.6" r="3" fill="#0d9488" fill-opacity="0.7"/><circle cx="883.5" cy="951.3" r="3" fill="#0d9488" fill-opacity="0.7"/><circle cx="883.5" cy="928.8" r="3" fill="#0d9488" fill-opacity="0.7"/><circle cx="883.5" cy="952.1" r="3" fill="#0d9488" fill-opacity="0.7"/><circle cx="894.0" cy="953.1" r="3" fill="#0d9488" fill-opacity="0.7"/><circle cx="894.0" cy="952.5" r="3" fill="#0d9488" fill-opacity="0.7"/><circle cx="894.0" cy="938.4" r="3" fill="#0d9488" fill-opacity="0.7"/><circle cx="894.0" cy="954.7" r="3" fill="#0d9488" fill-opacity="0.7"/><circle cx="894.0" cy="951.4" r="3" fill="#0d9488" fill-opacity="0.7"/><circle cx="894.0" cy="954.8" r="3" fill="#0d9488" fill-opacity="0.7"/><circle cx="894.0" cy="954.5" r="3" fill="#0d9488" fill-opacity="0.7"/><circle cx="894.0" cy="953.8" r="3" fill="#0d9488" fill-opacity="0.7"/><circle cx="894.0" cy="954.0" r="3" fill="#0d9488" fill-opacity="0.7"/><circle cx="894.0" cy="955.2" r="3" fill="#0d9488" fill-opacity="0.7"/><circle cx="894.0" cy="956.8" r="3" fill="#0d9488" fill-opacity="0.7"/><circle cx="894.0" cy="950.7" r="3" fill="#0d9488" fill-opacity="0.7"/><circle cx="894.0" cy="952.8" r="3" fill="#0d9488" fill-opacity="0.7"/><circle cx="894.0" cy="952.1" r="3" fill="#0d9488" fill-opacity="0.7"/><circle cx="894.0" cy="955.7" r="3" fill="#0d9488" fill-opacity="0.7"/><circle cx="894.0" cy="954.5" r="3" fill="#0d9488" fill-opacity="0.7"/><circle cx="894.0" cy="952.6" r="3" fill="#0d9488" fill-opacity="0.7"/><circle cx="894.0" cy="951.3" r="3" fill="#0d9488" fill-opacity="0.7"/><circle cx="894.0" cy="951.2" r="3" fill="#0d9488" fill-opacity="0.7"/><circle cx="894.0" cy="950.3" r="3" fill="#0d9488" fill-opacity="0.7"/><circle cx="894.0" cy="956.2" r="3" fill="#0d9488" fill-opacity="0.7"/><circle cx="894.0" cy="952.5" r="3" fill="#0d9488" fill-opacity="0.7"/><circle cx="894.0" cy="931.2" r="3" fill="#0d9488" fill-opacity="0.7"/><circle cx="894.0" cy="952.2" r="3" fill="#0d9488" fill-opacity="0.7"/><circle cx="894.0" cy="956.1" r="3" fill="#0d9488" fill-opacity="0.7"/><circle cx="904.5" cy="900.3" r="3" fill="#0d9488" fill-opacity="0.7"/><circle cx="904.5" cy="954.9" r="3" fill="#0d9488" fill-opacity="0.7"/><circle cx="904.5" cy="953.3" r="3" fill="#0d9488" fill-opacity="0.7"/><circle cx="904.5" cy="953.7" r="3" fill="#0d9488" fill-opacity="0.7"/><circle cx="904.5" cy="955.0" r="3" fill="#0d9488" fill-opacity="0.7"/><circle cx="904.5" cy="949.3" r="3" fill="#0d9488" fill-opacity="0.7"/><circle cx="904.5" cy="951.4" r="3" fill="#0d9488" fill-opacity="0.7"/><circle cx="904.5" cy="956.4" r="3" fill="#0d9488" fill-opacity="0.7"/><circle cx="904.5" cy="950.9" r="3" fill="#0d9488" fill-opacity="0.7"/><circle cx="904.5" cy="951.0" r="3" fill="#0d9488" fill-opacity="0.7"/><circle cx="904.5" cy="957.0" r="3" fill="#0d9488" fill-opacity="0.7"/><circle cx="904.5" cy="955.7" r="3" fill="#0d9488" fill-opacity="0.7"/><circle cx="904.5" cy="953.5" r="3" fill="#0d9488" fill-opacity="0.7"/><circle cx="904.5" cy="953.7" r="3" fill="#0d9488" fill-opacity="0.7"/><circle cx="904.5" cy="951.3" r="3" fill="#0d9488" fill-opacity="0.7"/><circle cx="904.5" cy="953.7" r="3" fill="#0d9488" fill-opacity="0.7"/><circle cx="904.5" cy="949.2" r="3" fill="#0d9488" fill-opacity="0.7"/><circle cx="904.5" cy="952.6" r="3" fill="#0d9488" fill-opacity="0.7"/><circle cx="904.5" cy="957.0" r="3" fill="#0d9488" fill-opacity="0.7"/><circle cx="904.5" cy="951.5" r="3" fill="#0d9488" fill-opacity="0.7"/><circle cx="904.5" cy="930.0" r="3" fill="#0d9488" fill-opacity="0.7"/><circle cx="915.0" cy="952.8" r="3" fill="#0d9488" fill-opacity="0.7"/><circle cx="915.0" cy="950.3" r="3" fill="#0d9488" fill-opacity="0.7"/><circle cx="915.0" cy="955.3" r="3" fill="#0d9488" fill-opacity="0.7"/><circle cx="915.0" cy="949.5" r="3" fill="#0d9488" fill-opacity="0.7"/><circle cx="915.0" cy="906.5" r="3" fill="#0d9488" fill-opacity="0.7"/><circle cx="915.0" cy="950.0" r="3" fill="#0d9488" fill-opacity="0.7"/><circle cx="915.0" cy="956.1" r="3" fill="#0d9488" fill-opacity="0.7"/><circle cx="915.0" cy="954.2" r="3" fill="#0d9488" fill-opacity="0.7"/><circle cx="915.0" cy="954.2" r="3" fill="#0d9488" fill-opacity="0.7"/><circle cx="915.0" cy="956.1" r="3" fill="#0d9488" fill-opacity="0.7"/><circle cx="915.0" cy="938.4" r="3" fill="#0d9488" fill-opacity="0.7"/><circle cx="915.0" cy="955.8" r="3" fill="#0d9488" fill-opacity="0.7"/><circle cx="915.0" cy="955.5" r="3" fill="#0d9488" fill-opacity="0.7"/><circle cx="915.0" cy="953.3" r="3" fill="#0d9488" fill-opacity="0.7"/><circle cx="915.0" cy="948.9" r="3" fill="#0d9488" fill-opacity="0.7"/><circle cx="915.0" cy="955.0" r="3" fill="#0d9488" fill-opacity="0.7"/><circle cx="915.0" cy="956.1" r="3" fill="#0d9488" fill-opacity="0.7"/><circle cx="915.0" cy="955.2" r="3" fill="#0d9488" fill-opacity="0.7"/><circle cx="915.0" cy="950.5" r="3" fill="#0d9488" fill-opacity="0.7"/><circle cx="915.0" cy="954.9" r="3" fill="#0d9488" fill-opacity="0.7"/><circle cx="915.0" cy="953.0" r="3" fill="#0d9488" fill-opacity="0.7"/><circle cx="915.0" cy="941.5" r="3" fill="#0d9488" fill-opacity="0.7"/><circle cx="925.5" cy="950.4" r="3" fill="#0d9488" fill-opacity="0.7"/><circle cx="925.5" cy="949.0" r="3" fill="#0d9488" fill-opacity="0.7"/><circle cx="925.5" cy="952.4" r="3" fill="#0d9488" fill-opacity="0.7"/><circle cx="925.5" cy="950.5" r="3" fill="#0d9488" fill-opacity="0.7"/><circle cx="925.5" cy="951.5" r="3" fill="#0d9488" fill-opacity="0.7"/><circle cx="925.5" cy="954.0" r="3" fill="#0d9488" fill-opacity="0.7"/><circle cx="925.5" cy="952.6" r="3" fill="#0d9488" fill-opacity="0.7"/><circle cx="925.5" cy="948.5" r="3" fill="#0d9488" fill-opacity="0.7"/><circle cx="925.5" cy="954.7" r="3" fill="#0d9488" fill-opacity="0.7"/><circle cx="925.5" cy="952.5" r="3" fill="#0d9488" fill-opacity="0.7"/><circle cx="925.5" cy="930.5" r="3" fill="#0d9488" fill-opacity="0.7"/><circle cx="925.5" cy="951.6" r="3" fill="#0d9488" fill-opacity="0.7"/><circle cx="925.5" cy="953.5" r="3" fill="#0d9488" fill-opacity="0.7"/><circle cx="925.5" cy="955.3" r="3" fill="#0d9488" fill-opacity="0.7"/><circle cx="925.5" cy="950.3" r="3" fill="#0d9488" fill-opacity="0.7"/><circle cx="925.5" cy="947.9" r="3" fill="#0d9488" fill-opacity="0.7"/><circle cx="925.5" cy="949.2" r="3" fill="#0d9488" fill-opacity="0.7"/><circle cx="925.5" cy="949.5" r="3" fill="#0d9488" fill-opacity="0.7"/><circle cx="925.5" cy="951.7" r="3" fill="#0d9488" fill-opacity="0.7"/><circle cx="925.5" cy="952.5" r="3" fill="#0d9488" fill-opacity="0.7"/><circle cx="925.5" cy="949.7" r="3" fill="#0d9488" fill-opacity="0.7"/><circle cx="925.5" cy="950.7" r="3" fill="#0d9488" fill-opacity="0.7"/><circle cx="925.5" cy="951.8" r="3" fill="#0d9488" fill-opacity="0.7"/><circle cx="936.0" cy="951.7" r="3" fill="#0d9488" fill-opacity="0.7"/><circle cx="936.0" cy="948.0" r="3" fill="#0d9488" fill-opacity="0.7"/><circle cx="936.0" cy="947.3" r="3" fill="#0d9488" fill-opacity="0.7"/><circle cx="936.0" cy="948.8" r="3" fill="#0d9488" fill-opacity="0.7"/><circle cx="936.0" cy="947.1" r="3" fill="#0d9488" fill-opacity="0.7"/><circle cx="936.0" cy="953.6" r="3" fill="#0d9488" fill-opacity="0.7"/><circle cx="936.0" cy="950.2" r="3" fill="#0d9488" fill-opacity="0.7"/><circle cx="936.0" cy="947.3" r="3" fill="#0d9488" fill-opacity="0.7"/><circle cx="936.0" cy="954.3" r="3" fill="#0d9488" fill-opacity="0.7"/><circle cx="936.0" cy="953.9" r="3" fill="#0d9488" fill-opacity="0.7"/><circle cx="936.0" cy="950.1" r="3" fill="#0d9488" fill-opacity="0.7"/><circle cx="936.0" cy="953.3" r="3" fill="#0d9488" fill-opacity="0.7"/><circle cx="936.0" cy="950.4" r="3" fill="#0d9488" fill-opacity="0.7"/><circle cx="936.0" cy="950.9" r="3" fill="#0d9488" fill-opacity="0.7"/><circle cx="936.0" cy="954.1" r="3" fill="#0d9488" fill-opacity="0.7"/><circle cx="936.0" cy="948.5" r="3" fill="#0d9488" fill-opacity="0.7"/><circle cx="936.0" cy="946.9" r="3" fill="#0d9488" fill-opacity="0.7"/><circle cx="936.0" cy="952.5" r="3" fill="#0d9488" fill-opacity="0.7"/><circle cx="936.0" cy="950.4" r="3" fill="#0d9488" fill-opacity="0.7"/><circle cx="936.0" cy="953.1" r="3" fill="#0d9488" fill-opacity="0.7"/><circle cx="946.5" cy="950.0" r="3" fill="#0d9488" fill-opacity="0.7"/><circle cx="946.5" cy="946.7" r="3" fill="#0d9488" fill-opacity="0.7"/><circle cx="946.5" cy="951.4" r="3" fill="#0d9488" fill-opacity="0.7"/><circle cx="946.5" cy="947.1" r="3" fill="#0d9488" fill-opacity="0.7"/><circle cx="946.5" cy="906.4" r="3" fill="#0d9488" fill-opacity="0.7"/><circle cx="946.5" cy="952.8" r="3" fill="#0d9488" fill-opacity="0.7"/><circle cx="946.5" cy="952.7" r="3" fill="#0d9488" fill-opacity="0.7"/><circle cx="946.5" cy="952.6" r="3" fill="#0d9488" fill-opacity="0.7"/><circle cx="946.5" cy="951.7" r="3" fill="#0d9488" fill-opacity="0.7"/><circle cx="946.5" cy="950.8" r="3" fill="#0d9488" fill-opacity="0.7"/><circle cx="946.5" cy="950.9" r="3" fill="#0d9488" fill-opacity="0.7"/><circle cx="946.5" cy="946.1" r="3" fill="#0d9488" fill-opacity="0.7"/><circle cx="946.5" cy="951.0" r="3" fill="#0d9488" fill-opacity="0.7"/><circle cx="946.5" cy="948.5" r="3" fill="#0d9488" fill-opacity="0.7"/><circle cx="946.5" cy="946.6" r="3" fill="#0d9488" fill-opacity="0.7"/><circle cx="946.5" cy="950.8" r="3" fill="#0d9488" fill-opacity="0.7"/><circle cx="946.5" cy="952.6" r="3" fill="#0d9488" fill-opacity="0.7"/><circle cx="946.5" cy="945.6" r="3" fill="#0d9488" fill-opacity="0.7"/><circle cx="946.5" cy="946.3" r="3" fill="#0d9488" fill-opacity="0.7"/><circle cx="946.5" cy="948.7" r="3" fill="#0d9488" fill-opacity="0.7"/><circle cx="946.5" cy="930.2" r="3" fill="#0d9488" fill-opacity="0.7"/><circle cx="946.5" cy="949.9" r="3" fill="#0d9488" fill-opacity="0.7"/><circle cx="946.5" cy="947.9" r="3" fill="#0d9488" fill-opacity="0.7"/><circle cx="946.5" cy="947.8" r="3" fill="#0d9488" fill-opacity="0.7"/><circle cx="946.5" cy="951.7" r="3" fill="#0d9488" fill-opacity="0.7"/><circle cx="957.0" cy="939.3" r="3" fill="#0d9488" fill-opacity="0.7"/><circle cx="957.0" cy="949.0" r="3" fill="#0d9488" fill-opacity="0.7"/><circle cx="957.0" cy="952.4" r="3" fill="#0d9488" fill-opacity="0.7"/><circle cx="957.0" cy="938.9" r="3" fill="#0d9488" fill-opacity="0.7"/><circle cx="957.0" cy="949.3" r="3" fill="#0d9488" fill-opacity="0.7"/><circle cx="957.0" cy="950.9" r="3" fill="#0d9488" fill-opacity="0.7"/><circle cx="957.0" cy="951.4" r="3" fill="#0d9488" fill-opacity="0.7"/><circle cx="957.0" cy="952.1" r="3" fill="#0d9488" fill-opacity="0.7"/><circle cx="957.0" cy="948.4" r="3" fill="#0d9488" fill-opacity="0.7"/><circle cx="957.0" cy="944.9" r="3" fill="#0d9488" fill-opacity="0.7"/><circle cx="957.0" cy="950.2" r="3" fill="#0d9488" fill-opacity="0.7"/><circle cx="957.0" cy="948.2" r="3" fill="#0d9488" fill-opacity="0.7"/><circle cx="957.0" cy="948.8" r="3" fill="#0d9488" fill-opacity="0.7"/><circle cx="957.0" cy="945.6" r="3" fill="#0d9488" fill-opacity="0.7"/><circle cx="957.0" cy="951.9" r="3" fill="#0d9488" fill-opacity="0.7"/><circle cx="957.0" cy="907.8" r="3" fill="#0d9488" fill-opacity="0.7"/><circle cx="957.0" cy="949.5" r="3" fill="#0d9488" fill-opacity="0.7"/><circle cx="957.0" cy="948.0" r="3" fill="#0d9488" fill-opacity="0.7"/><circle cx="957.0" cy="914.2" r="3" fill="#0d9488" fill-opacity="0.7"/><circle cx="957.0" cy="951.4" r="3" fill="#0d9488" fill-opacity="0.7"/><circle cx="957.0" cy="950.3" r="3" fill="#0d9488" fill-opacity="0.7"/><circle cx="957.0" cy="951.3" r="3" fill="#0d9488" fill-opacity="0.7"/><circle cx="957.0" cy="947.6" r="3" fill="#0d9488" fill-opacity="0.7"/><circle cx="967.5" cy="944.0" r="3" fill="#0d9488" fill-opacity="0.7"/><circle cx="967.5" cy="922.8" r="3" fill="#0d9488" fill-opacity="0.7"/><circle cx="967.5" cy="949.2" r="3" fill="#0d9488" fill-opacity="0.7"/><circle cx="967.5" cy="938.9" r="3" fill="#0d9488" fill-opacity="0.7"/><circle cx="967.5" cy="950.2" r="3" fill="#0d9488" fill-opacity="0.7"/><circle cx="967.5" cy="945.5" r="3" fill="#0d9488" fill-opacity="0.7"/><circle cx="967.5" cy="946.4" r="3" fill="#0d9488" fill-opacity="0.7"/><circle cx="967.5" cy="948.6" r="3" fill="#0d9488" fill-opacity="0.7"/><circle cx="967.5" cy="948.2" r="3" fill="#0d9488" fill-opacity="0.7"/><circle cx="967.5" cy="948.1" r="3" fill="#0d9488" fill-opacity="0.7"/><circle cx="967.5" cy="948.8" r="3" fill="#0d9488" fill-opacity="0.7"/><circle cx="967.5" cy="950.9" r="3" fill="#0d9488" fill-opacity="0.7"/><circle cx="967.5" cy="904.8" r="3" fill="#0d9488" fill-opacity="0.7"/><circle cx="967.5" cy="948.6" r="3" fill="#0d9488" fill-opacity="0.7"/><circle cx="967.5" cy="944.2" r="3" fill="#0d9488" fill-opacity="0.7"/><circle cx="967.5" cy="944.0" r="3" fill="#0d9488" fill-opacity="0.7"/><circle cx="967.5" cy="947.1" r="3" fill="#0d9488" fill-opacity="0.7"/><circle cx="967.5" cy="948.2" r="3" fill="#0d9488" fill-opacity="0.7"/><circle cx="967.5" cy="948.7" r="3" fill="#0d9488" fill-opacity="0.7"/><circle cx="967.5" cy="945.3" r="3" fill="#0d9488" fill-opacity="0.7"/><circle cx="967.5" cy="945.5" r="3" fill="#0d9488" fill-opacity="0.7"/><circle cx="484.9" cy="905.0" r="3" fill="#ef4444" fill-opacity="0.7"/><circle cx="484.9" cy="949.9" r="3" fill="#ef4444" fill-opacity="0.7"/><circle cx="484.9" cy="907.2" r="3" fill="#ef4444" fill-opacity="0.7"/><circle cx="484.9" cy="899.6" r="3" fill="#ef4444" fill-opacity="0.7"/><circle cx="484.9" cy="944.3" r="3" fill="#ef4444" fill-opacity="0.7"/><circle cx="484.9" cy="904.2" r="3" fill="#ef4444" fill-opacity="0.7"/><circle cx="484.9" cy="952.1" r="3" fill="#ef4444" fill-opacity="0.7"/><circle cx="484.9" cy="936.8" r="3" fill="#ef4444" fill-opacity="0.7"/><circle cx="484.9" cy="934.7" r="3" fill="#ef4444" fill-opacity="0.7"/><circle cx="484.9" cy="953.9" r="3" fill="#ef4444" fill-opacity="0.7"/><circle cx="484.9" cy="940.6" r="3" fill="#ef4444" fill-opacity="0.7"/><circle cx="484.9" cy="900.6" r="3" fill="#ef4444" fill-opacity="0.7"/><circle cx="484.9" cy="951.2" r="3" fill="#ef4444" fill-opacity="0.7"/><circle cx="484.9" cy="940.5" r="3" fill="#ef4444" fill-opacity="0.7"/><circle cx="484.9" cy="898.0" r="3" fill="#ef4444" fill-opacity="0.7"/><circle cx="484.9" cy="939.0" r="3" fill="#ef4444" fill-opacity="0.7"/><circle cx="484.9" cy="909.2" r="3" fill="#ef4444" fill-opacity="0.7"/><circle cx="484.9" cy="946.2" r="3" fill="#ef4444" fill-opacity="0.7"/><circle cx="495.4" cy="946.9" r="3" fill="#ef4444" fill-opacity="0.7"/><circle cx="495.4" cy="896.3" r="3" fill="#ef4444" fill-opacity="0.7"/><circle cx="495.4" cy="937.7" r="3" fill="#ef4444" fill-opacity="0.7"/><circle cx="495.4" cy="903.5" r="3" fill="#ef4444" fill-opacity="0.7"/><circle cx="495.4" cy="893.8" r="3" fill="#ef4444" fill-opacity="0.7"/><circle cx="495.4" cy="903.7" r="3" fill="#ef4444" fill-opacity="0.7"/><circle cx="495.4" cy="901.8" r="3" fill="#ef4444" fill-opacity="0.7"/><circle cx="495.4" cy="904.1" r="3" fill="#ef4444" fill-opacity="0.7"/><circle cx="495.4" cy="954.9" r="3" fill="#ef4444" fill-opacity="0.7"/><circle cx="495.4" cy="942.2" r="3" fill="#ef4444" fill-opacity="0.7"/><circle cx="495.4" cy="891.7" r="3" fill="#ef4444" fill-opacity="0.7"/><circle cx="495.4" cy="895.7" r="3" fill="#ef4444" fill-opacity="0.7"/><circle cx="495.4" cy="939.7" r="3" fill="#ef4444" fill-opacity="0.7"/><circle cx="495.4" cy="903.2" r="3" fill="#ef4444" fill-opacity="0.7"/><circle cx="495.4" cy="946.1" r="3" fill="#ef4444" fill-opacity="0.7"/><circle cx="505.9" cy="900.5" r="3" fill="#ef4444" fill-opacity="0.7"/><circle cx="505.9" cy="945.4" r="3" fill="#ef4444" fill-opacity="0.7"/><circle cx="505.9" cy="908.7" r="3" fill="#ef4444" fill-opacity="0.7"/><circle cx="516.4" cy="902.6" r="3" fill="#ef4444" fill-opacity="0.7"/><circle cx="516.4" cy="942.9" r="3" fill="#ef4444" fill-opacity="0.7"/><circle cx="516.4" cy="897.4" r="3" fill="#ef4444" fill-opacity="0.7"/><circle cx="516.4" cy="902.1" r="3" fill="#ef4444" fill-opacity="0.7"/><circle cx="516.4" cy="943.7" r="3" fill="#ef4444" fill-opacity="0.7"/><circle cx="516.4" cy="902.5" r="3" fill="#ef4444" fill-opacity="0.7"/><circle cx="516.4" cy="948.3" r="3" fill="#ef4444" fill-opacity="0.7"/><circle cx="516.4" cy="889.7" r="3" fill="#ef4444" fill-opacity="0.7"/><circle cx="516.4" cy="947.5" r="3" fill="#ef4444" fill-opacity="0.7"/><circle cx="526.9" cy="949.3" r="3" fill="#ef4444" fill-opacity="0.7"/><circle cx="526.9" cy="938.8" r="3" fill="#ef4444" fill-opacity="0.7"/><circle cx="526.9" cy="895.7" r="3" fill="#ef4444" fill-opacity="0.7"/><circle cx="526.9" cy="946.0" r="3" fill="#ef4444" fill-opacity="0.7"/><circle cx="537.4" cy="951.3" r="3" fill="#ef4444" fill-opacity="0.7"/><circle cx="537.4" cy="940.4" r="3" fill="#ef4444" fill-opacity="0.7"/><circle cx="537.4" cy="894.1" r="3" fill="#ef4444" fill-opacity="0.7"/><circle cx="537.4" cy="899.2" r="3" fill="#ef4444" fill-opacity="0.7"/><circle cx="537.4" cy="894.5" r="3" fill="#ef4444" fill-opacity="0.7"/><circle cx="537.4" cy="908.4" r="3" fill="#ef4444" fill-opacity="0.7"/><circle cx="537.4" cy="897.0" r="3" fill="#ef4444" fill-opacity="0.7"/><circle cx="537.4" cy="898.1" r="3" fill="#ef4444" fill-opacity="0.7"/><circle cx="537.4" cy="899.1" r="3" fill="#ef4444" fill-opacity="0.7"/><circle cx="547.9" cy="943.5" r="3" fill="#ef4444" fill-opacity="0.7"/><circle cx="547.9" cy="938.6" r="3" fill="#ef4444" fill-opacity="0.7"/><circle cx="547.9" cy="938.8" r="3" fill="#ef4444" fill-opacity="0.7"/><circle cx="558.4" cy="942.0" r="3" fill="#ef4444" fill-opacity="0.7"/><circle cx="558.4" cy="899.8" r="3" fill="#ef4444" fill-opacity="0.7"/><circle cx="558.4" cy="945.5" r="3" fill="#ef4444" fill-opacity="0.7"/><circle cx="558.4" cy="946.8" r="3" fill="#ef4444" fill-opacity="0.7"/><circle cx="568.8" cy="904.8" r="3" fill="#ef4444" fill-opacity="0.7"/><circle cx="568.8" cy="898.5" r="3" fill="#ef4444" fill-opacity="0.7"/><circle cx="568.8" cy="888.7" r="3" fill="#ef4444" fill-opacity="0.7"/><circle cx="568.8" cy="941.6" r="3" fill="#ef4444" fill-opacity="0.7"/><circle cx="579.3" cy="930.9" r="3" fill="#ef4444" fill-opacity="0.7"/><circle cx="579.3" cy="898.8" r="3" fill="#ef4444" fill-opacity="0.7"/><circle cx="579.3" cy="894.7" r="3" fill="#ef4444" fill-opacity="0.7"/><circle cx="579.3" cy="950.6" r="3" fill="#ef4444" fill-opacity="0.7"/><circle cx="579.3" cy="889.3" r="3" fill="#ef4444" fill-opacity="0.7"/><circle cx="579.3" cy="896.5" r="3" fill="#ef4444" fill-opacity="0.7"/><circle cx="579.3" cy="895.3" r="3" fill="#ef4444" fill-opacity="0.7"/><circle cx="589.8" cy="890.4" r="3" fill="#ef4444" fill-opacity="0.7"/><circle cx="589.8" cy="894.4" r="3" fill="#ef4444" fill-opacity="0.7"/><circle cx="589.8" cy="891.5" r="3" fill="#ef4444" fill-opacity="0.7"/><circle cx="589.8" cy="938.1" r="3" fill="#ef4444" fill-opacity="0.7"/><circle cx="589.8" cy="901.0" r="3" fill="#ef4444" fill-opacity="0.7"/><circle cx="589.8" cy="894.1" r="3" fill="#ef4444" fill-opacity="0.7"/><circle cx="589.8" cy="945.6" r="3" fill="#ef4444" fill-opacity="0.7"/><circle cx="600.3" cy="889.1" r="3" fill="#ef4444" fill-opacity="0.7"/><circle cx="600.3" cy="894.3" r="3" fill="#ef4444" fill-opacity="0.7"/><circle cx="600.3" cy="864.9" r="3" fill="#ef4444" fill-opacity="0.7"/><circle cx="600.3" cy="940.6" r="3" fill="#ef4444" fill-opacity="0.7"/><circle cx="610.8" cy="899.5" r="3" fill="#ef4444" fill-opacity="0.7"/><circle cx="610.8" cy="939.5" r="3" fill="#ef4444" fill-opacity="0.7"/><circle cx="610.8" cy="931.0" r="3" fill="#ef4444" fill-opacity="0.7"/><circle cx="610.8" cy="898.1" r="3" fill="#ef4444" fill-opacity="0.7"/><circle cx="610.8" cy="942.4" r="3" fill="#ef4444" fill-opacity="0.7"/><circle cx="610.8" cy="895.3" r="3" fill="#ef4444" fill-opacity="0.7"/><circle cx="610.8" cy="889.1" r="3" fill="#ef4444" fill-opacity="0.7"/><circle cx="610.8" cy="938.8" r="3" fill="#ef4444" fill-opacity="0.7"/><circle cx="610.8" cy="896.9" r="3" fill="#ef4444" fill-opacity="0.7"/><circle cx="621.3" cy="872.2" r="3" fill="#ef4444" fill-opacity="0.7"/><circle cx="621.3" cy="891.6" r="3" fill="#ef4444" fill-opacity="0.7"/><circle cx="621.3" cy="898.8" r="3" fill="#ef4444" fill-opacity="0.7"/><circle cx="621.3" cy="890.4" r="3" fill="#ef4444" fill-opacity="0.7"/><circle cx="621.3" cy="894.4" r="3" fill="#ef4444" fill-opacity="0.7"/><circle cx="621.3" cy="927.6" r="3" fill="#ef4444" fill-opacity="0.7"/><circle cx="631.8" cy="934.8" r="3" fill="#ef4444" fill-opacity="0.7"/><circle cx="631.8" cy="858.9" r="3" fill="#ef4444" fill-opacity="0.7"/><circle cx="631.8" cy="933.6" r="3" fill="#ef4444" fill-opacity="0.7"/><circle cx="631.8" cy="935.2" r="3" fill="#ef4444" fill-opacity="0.7"/><circle cx="631.8" cy="891.7" r="3" fill="#ef4444" fill-opacity="0.7"/><circle cx="631.8" cy="887.3" r="3" fill="#ef4444" fill-opacity="0.7"/><circle cx="642.3" cy="887.7" r="3" fill="#ef4444" fill-opacity="0.7"/><circle cx="642.3" cy="947.2" r="3" fill="#ef4444" fill-opacity="0.7"/><circle cx="642.3" cy="894.9" r="3" fill="#ef4444" fill-opacity="0.7"/><circle cx="642.3" cy="933.0" r="3" fill="#ef4444" fill-opacity="0.7"/><circle cx="642.3" cy="885.7" r="3" fill="#ef4444" fill-opacity="0.7"/><circle cx="652.8" cy="950.2" r="3" fill="#ef4444" fill-opacity="0.7"/><circle cx="652.8" cy="888.5" r="3" fill="#ef4444" fill-opacity="0.7"/><circle cx="652.8" cy="894.5" r="3" fill="#ef4444" fill-opacity="0.7"/><circle cx="652.8" cy="888.0" r="3" fill="#ef4444" fill-opacity="0.7"/><circle cx="652.8" cy="886.6" r="3" fill="#ef4444" fill-opacity="0.7"/><circle cx="663.2" cy="944.9" r="3" fill="#ef4444" fill-opacity="0.7"/><circle cx="663.2" cy="932.4" r="3" fill="#ef4444" fill-opacity="0.7"/><circle cx="663.2" cy="939.6" r="3" fill="#ef4444" fill-opacity="0.7"/><circle cx="663.2" cy="890.9" r="3" fill="#ef4444" fill-opacity="0.7"/><circle cx="663.2" cy="929.8" r="3" fill="#ef4444" fill-opacity="0.7"/><circle cx="663.2" cy="890.3" r="3" fill="#ef4444" fill-opacity="0.7"/><circle cx="663.2" cy="931.9" r="3" fill="#ef4444" fill-opacity="0.7"/><circle cx="663.2" cy="939.7" r="3" fill="#ef4444" fill-opacity="0.7"/><circle cx="673.7" cy="892.2" r="3" fill="#ef4444" fill-opacity="0.7"/><circle cx="673.7" cy="932.5" r="3" fill="#ef4444" fill-opacity="0.7"/><circle cx="673.7" cy="889.1" r="3" fill="#ef4444" fill-opacity="0.7"/><circle cx="673.7" cy="898.8" r="3" fill="#ef4444" fill-opacity="0.7"/><circle cx="673.7" cy="931.6" r="3" fill="#ef4444" fill-opacity="0.7"/><circle cx="673.7" cy="936.0" r="3" fill="#ef4444" fill-opacity="0.7"/><circle cx="673.7" cy="895.1" r="3" fill="#ef4444" fill-opacity="0.7"/><circle cx="673.7" cy="933.8" r="3" fill="#ef4444" fill-opacity="0.7"/><circle cx="684.2" cy="932.2" r="3" fill="#ef4444" fill-opacity="0.7"/><circle cx="684.2" cy="930.6" r="3" fill="#ef4444" fill-opacity="0.7"/><circle cx="684.2" cy="883.9" r="3" fill="#ef4444" fill-opacity="0.7"/><circle cx="684.2" cy="934.9" r="3" fill="#ef4444" fill-opacity="0.7"/><circle cx="684.2" cy="893.4" r="3" fill="#ef4444" fill-opacity="0.7"/><circle cx="684.2" cy="929.7" r="3" fill="#ef4444" fill-opacity="0.7"/><circle cx="684.2" cy="930.4" r="3" fill="#ef4444" fill-opacity="0.7"/><circle cx="694.7" cy="889.5" r="3" fill="#ef4444" fill-opacity="0.7"/><circle cx="694.7" cy="888.3" r="3" fill="#ef4444" fill-opacity="0.7"/><circle cx="694.7" cy="873.9" r="3" fill="#ef4444" fill-opacity="0.7"/><circle cx="694.7" cy="894.7" r="3" fill="#ef4444" fill-opacity="0.7"/><circle cx="694.7" cy="881.1" r="3" fill="#ef4444" fill-opacity="0.7"/><circle cx="694.7" cy="880.6" r="3" fill="#ef4444" fill-opacity="0.7"/><circle cx="694.7" cy="932.3" r="3" fill="#ef4444" fill-opacity="0.7"/><circle cx="694.7" cy="935.7" r="3" fill="#ef4444" fill-opacity="0.7"/><circle cx="705.2" cy="874.9" r="3" fill="#ef4444" fill-opacity="0.7"/><circle cx="705.2" cy="883.5" r="3" fill="#ef4444" fill-opacity="0.7"/><circle cx="715.7" cy="882.0" r="3" fill="#ef4444" fill-opacity="0.7"/><circle cx="715.7" cy="931.1" r="3" fill="#ef4444" fill-opacity="0.7"/><circle cx="715.7" cy="930.1" r="3" fill="#ef4444" fill-opacity="0.7"/><circle cx="715.7" cy="887.9" r="3" fill="#ef4444" fill-opacity="0.7"/><circle cx="715.7" cy="884.8" r="3" fill="#ef4444" fill-opacity="0.7"/><circle cx="726.2" cy="925.3" r="3" fill="#ef4444" fill-opacity="0.7"/><circle cx="726.2" cy="887.3" r="3" fill="#ef4444" fill-opacity="0.7"/><circle cx="726.2" cy="935.8" r="3" fill="#ef4444" fill-opacity="0.7"/><circle cx="726.2" cy="939.6" r="3" fill="#ef4444" fill-opacity="0.7"/><circle cx="726.2" cy="930.1" r="3" fill="#ef4444" fill-opacity="0.7"/><circle cx="736.7" cy="923.6" r="3" fill="#ef4444" fill-opacity="0.7"/><circle cx="736.7" cy="884.2" r="3" fill="#ef4444" fill-opacity="0.7"/><circle cx="736.7" cy="937.7" r="3" fill="#ef4444" fill-opacity="0.7"/><circle cx="736.7" cy="885.5" r="3" fill="#ef4444" fill-opacity="0.7"/><circle cx="747.2" cy="891.9" r="3" fill="#ef4444" fill-opacity="0.7"/><circle cx="747.2" cy="880.7" r="3" fill="#ef4444" fill-opacity="0.7"/><circle cx="747.2" cy="929.3" r="3" fill="#ef4444" fill-opacity="0.7"/><circle cx="747.2" cy="928.9" r="3" fill="#ef4444" fill-opacity="0.7"/><circle cx="747.2" cy="885.5" r="3" fill="#ef4444" fill-opacity="0.7"/><circle cx="747.2" cy="882.7" r="3" fill="#ef4444" fill-opacity="0.7"/><circle cx="757.7" cy="883.4" r="3" fill="#ef4444" fill-opacity="0.7"/><circle cx="757.7" cy="885.0" r="3" fill="#ef4444" fill-opacity="0.7"/><circle cx="757.7" cy="879.4" r="3" fill="#ef4444" fill-opacity="0.7"/><circle cx="768.1" cy="882.2" r="3" fill="#ef4444" fill-opacity="0.7"/><circle cx="768.1" cy="929.3" r="3" fill="#ef4444" fill-opacity="0.7"/><circle cx="768.1" cy="883.5" r="3" fill="#ef4444" fill-opacity="0.7"/><circle cx="768.1" cy="931.7" r="3" fill="#ef4444" fill-opacity="0.7"/><circle cx="768.1" cy="889.3" r="3" fill="#ef4444" fill-opacity="0.7"/><circle cx="768.1" cy="928.2" r="3" fill="#ef4444" fill-opacity="0.7"/><circle cx="768.1" cy="880.5" r="3" fill="#ef4444" fill-opacity="0.7"/><circle cx="768.1" cy="879.1" r="3" fill="#ef4444" fill-opacity="0.7"/><circle cx="768.1" cy="882.8" r="3" fill="#ef4444" fill-opacity="0.7"/><circle cx="778.6" cy="884.3" r="3" fill="#ef4444" fill-opacity="0.7"/><circle cx="778.6" cy="884.3" r="3" fill="#ef4444" fill-opacity="0.7"/><circle cx="778.6" cy="889.2" r="3" fill="#ef4444" fill-opacity="0.7"/><circle cx="778.6" cy="930.9" r="3" fill="#ef4444" fill-opacity="0.7"/><circle cx="778.6" cy="930.6" r="3" fill="#ef4444" fill-opacity="0.7"/><circle cx="789.1" cy="877.2" r="3" fill="#ef4444" fill-opacity="0.7"/><circle cx="789.1" cy="931.2" r="3" fill="#ef4444" fill-opacity="0.7"/><circle cx="789.1" cy="879.7" r="3" fill="#ef4444" fill-opacity="0.7"/><circle cx="789.1" cy="937.1" r="3" fill="#ef4444" fill-opacity="0.7"/><circle cx="799.6" cy="882.4" r="3" fill="#ef4444" fill-opacity="0.7"/><circle cx="799.6" cy="876.3" r="3" fill="#ef4444" fill-opacity="0.7"/><circle cx="799.6" cy="875.4" r="3" fill="#ef4444" fill-opacity="0.7"/><circle cx="799.6" cy="922.5" r="3" fill="#ef4444" fill-opacity="0.7"/><circle cx="799.6" cy="933.0" r="3" fill="#ef4444" fill-opacity="0.7"/><circle cx="799.6" cy="874.0" r="3" fill="#ef4444" fill-opacity="0.7"/><circle cx="799.6" cy="887.2" r="3" fill="#ef4444" fill-opacity="0.7"/><circle cx="810.1" cy="930.0" r="3" fill="#ef4444" fill-opacity="0.7"/><circle cx="810.1" cy="930.9" r="3" fill="#ef4444" fill-opacity="0.7"/><circle cx="820.6" cy="918.0" r="3" fill="#ef4444" fill-opacity="0.7"/><circle cx="820.6" cy="872.7" r="3" fill="#ef4444" fill-opacity="0.7"/><circle cx="820.6" cy="930.9" r="3" fill="#ef4444" fill-opacity="0.7"/><circle cx="820.6" cy="873.1" r="3" fill="#ef4444" fill-opacity="0.7"/><circle cx="820.6" cy="916.5" r="3" fill="#ef4444" fill-opacity="0.7"/><circle cx="820.6" cy="926.5" r="3" fill="#ef4444" fill-opacity="0.7"/><circle cx="820.6" cy="932.8" r="3" fill="#ef4444" fill-opacity="0.7"/><circle cx="820.6" cy="884.0" r="3" fill="#ef4444" fill-opacity="0.7"/><circle cx="820.6" cy="884.9" r="3" fill="#ef4444" fill-opacity="0.7"/><circle cx="831.1" cy="913.3" r="3" fill="#ef4444" fill-opacity="0.7"/><circle cx="831.1" cy="921.6" r="3" fill="#ef4444" fill-opacity="0.7"/><circle cx="831.1" cy="882.3" r="3" fill="#ef4444" fill-opacity="0.7"/><circle cx="831.1" cy="921.8" r="3" fill="#ef4444" fill-opacity="0.7"/><circle cx="831.1" cy="876.3" r="3" fill="#ef4444" fill-opacity="0.7"/><circle cx="841.6" cy="871.9" r="3" fill="#ef4444" fill-opacity="0.7"/><circle cx="841.6" cy="882.3" r="3" fill="#ef4444" fill-opacity="0.7"/><circle cx="841.6" cy="917.2" r="3" fill="#ef4444" fill-opacity="0.7"/><circle cx="841.6" cy="878.8" r="3" fill="#ef4444" fill-opacity="0.7"/><circle cx="841.6" cy="926.8" r="3" fill="#ef4444" fill-opacity="0.7"/><circle cx="852.1" cy="881.8" r="3" fill="#ef4444" fill-opacity="0.7"/><circle cx="852.1" cy="869.0" r="3" fill="#ef4444" fill-opacity="0.7"/><circle cx="862.6" cy="875.3" r="3" fill="#ef4444" fill-opacity="0.7"/><circle cx="862.6" cy="868.1" r="3" fill="#ef4444" fill-opacity="0.7"/><circle cx="862.6" cy="875.5" r="3" fill="#ef4444" fill-opacity="0.7"/><circle cx="862.6" cy="884.3" r="3" fill="#ef4444" fill-opacity="0.7"/><circle cx="873.0" cy="915.4" r="3" fill="#ef4444" fill-opacity="0.7"/><circle cx="873.0" cy="882.9" r="3" fill="#ef4444" fill-opacity="0.7"/><circle cx="873.0" cy="879.6" r="3" fill="#ef4444" fill-opacity="0.7"/><circle cx="873.0" cy="871.4" r="3" fill="#ef4444" fill-opacity="0.7"/><circle cx="883.5" cy="876.6" r="3" fill="#ef4444" fill-opacity="0.7"/><circle cx="883.5" cy="918.8" r="3" fill="#ef4444" fill-opacity="0.7"/><circle cx="883.5" cy="876.3" r="3" fill="#ef4444" fill-opacity="0.7"/><circle cx="883.5" cy="879.4" r="3" fill="#ef4444" fill-opacity="0.7"/><circle cx="883.5" cy="879.6" r="3" fill="#ef4444" fill-opacity="0.7"/><circle cx="894.0" cy="878.1" r="3" fill="#ef4444" fill-opacity="0.7"/><circle cx="894.0" cy="877.1" r="3" fill="#ef4444" fill-opacity="0.7"/><circle cx="894.0" cy="869.0" r="3" fill="#ef4444" fill-opacity="0.7"/><circle cx="904.5" cy="875.4" r="3" fill="#ef4444" fill-opacity="0.7"/><circle cx="904.5" cy="918.5" r="3" fill="#ef4444" fill-opacity="0.7"/><circle cx="904.5" cy="922.7" r="3" fill="#ef4444" fill-opacity="0.7"/><circle cx="904.5" cy="871.1" r="3" fill="#ef4444" fill-opacity="0.7"/><circle cx="904.5" cy="917.0" r="3" fill="#ef4444" fill-opacity="0.7"/><circle cx="904.5" cy="882.7" r="3" fill="#ef4444" fill-opacity="0.7"/><circle cx="904.5" cy="874.2" r="3" fill="#ef4444" fill-opacity="0.7"/><circle cx="915.0" cy="918.8" r="3" fill="#ef4444" fill-opacity="0.7"/><circle cx="915.0" cy="872.3" r="3" fill="#ef4444" fill-opacity="0.7"/><circle cx="915.0" cy="913.2" r="3" fill="#ef4444" fill-opacity="0.7"/><circle cx="915.0" cy="915.9" r="3" fill="#ef4444" fill-opacity="0.7"/><circle cx="915.0" cy="876.2" r="3" fill="#ef4444" fill-opacity="0.7"/><circle cx="915.0" cy="872.6" r="3" fill="#ef4444" fill-opacity="0.7"/><circle cx="925.5" cy="877.1" r="3" fill="#ef4444" fill-opacity="0.7"/><circle cx="925.5" cy="876.0" r="3" fill="#ef4444" fill-opacity="0.7"/><circle cx="925.5" cy="831.4" r="3" fill="#ef4444" fill-opacity="0.7"/><circle cx="925.5" cy="918.0" r="3" fill="#ef4444" fill-opacity="0.7"/><circle cx="925.5" cy="863.1" r="3" fill="#ef4444" fill-opacity="0.7"/><circle cx="936.0" cy="917.7" r="3" fill="#ef4444" fill-opacity="0.7"/><circle cx="936.0" cy="870.4" r="3" fill="#ef4444" fill-opacity="0.7"/><circle cx="936.0" cy="912.1" r="3" fill="#ef4444" fill-opacity="0.7"/><circle cx="936.0" cy="914.8" r="3" fill="#ef4444" fill-opacity="0.7"/><circle cx="936.0" cy="868.7" r="3" fill="#ef4444" fill-opacity="0.7"/><circle cx="936.0" cy="867.8" r="3" fill="#ef4444" fill-opacity="0.7"/><circle cx="936.0" cy="924.6" r="3" fill="#ef4444" fill-opacity="0.7"/><circle cx="936.0" cy="868.0" r="3" fill="#ef4444" fill-opacity="0.7"/><circle cx="946.5" cy="921.4" r="3" fill="#ef4444" fill-opacity="0.7"/><circle cx="946.5" cy="912.2" r="3" fill="#ef4444" fill-opacity="0.7"/><circle cx="946.5" cy="925.0" r="3" fill="#ef4444" fill-opacity="0.7"/><circle cx="957.0" cy="868.1" r="3" fill="#ef4444" fill-opacity="0.7"/><circle cx="957.0" cy="914.3" r="3" fill="#ef4444" fill-opacity="0.7"/><circle cx="957.0" cy="916.4" r="3" fill="#ef4444" fill-opacity="0.7"/><circle cx="957.0" cy="837.8" r="3" fill="#ef4444" fill-opacity="0.7"/><circle cx="957.0" cy="921.8" r="3" fill="#ef4444" fill-opacity="0.7"/><circle cx="967.5" cy="871.7" r="3" fill="#ef4444" fill-opacity="0.7"/><circle cx="967.5" cy="864.8" r="3" fill="#ef4444" fill-opacity="0.7"/><circle cx="967.5" cy="860.6" r="3" fill="#ef4444" fill-opacity="0.7"/><circle cx="967.5" cy="918.1" r="3" fill="#ef4444" fill-opacity="0.7"/><circle cx="967.5" cy="867.0" r="3" fill="#ef4444" fill-opacity="0.7"/><circle cx="967.5" cy="926.1" r="3" fill="#ef4444" fill-opacity="0.7"/><circle cx="967.5" cy="866.1" r="3" fill="#ef4444" fill-opacity="0.7"/><text x="1012.0" y="835.0" font-size="12" text-anchor="start" fill="#d1d5db" id="t60" textLength="39.375" lengthAdjust="spacingAndGlyphs">smoker</text><circle cx="1030" cy="849" r="3" fill="#ef4444" fill-opacity="0.7"/><circle cx="1030" cy="868" r="3" fill="#0d9488" fill-opacity="0.7"/><text x="1050.0" y="854.0" font-size="12" text-anchor="start" fill="#d1d5db" id="t61" textLength="16.906" lengthAdjust="spacingAndGlyphs">yes</text><text x="1050.0" y="872.7" font-size="12" text-anchor="start" fill="#d1d5db" id="t62" textLength="13.562" lengthAdjust="spacingAndGlyphs">no</text><rect x="1222.9" y="823.4" width="557.9" height="34.8" fill="#6366f1"/><text x="1213.5" y="844.8" font-size="12" text-anchor="end" fill="#d1d5db" id="t63" textLength="50.859" lengthAdjust="spacingAndGlyphs">southeast</text><rect x="1222.9" y="867.1" width="507.6" height="34.8" fill="#0891b2"/><text x="1213.5" y="888.5" font-size="12" text-anchor="end" fill="#d1d5db" id="t64" textLength="50.781" lengthAdjust="spacingAndGlyphs">northeast</text><rect x="1222.9" y="910.8" width="470.1" height="34.8" fill="#0d9488"/><text x="1213.5" y="932.2" font-size="12" text-anchor="end" fill="#d1d5db" id="t65" textLength="53.578" lengthAdjust="spacingAndGlyphs">northwest</text><rect x="1222.9" y="954.6" width="467.5" height="34.8" fill="#0d9488"/><text x="1213.5" y="976.0" font-size="12" text-anchor="end" fill="#d1d5db" id="t66" textLength="53.672" lengthAdjust="spacingAndGlyphs">southwest</text><text x="1222.9" y="1015.8" font-size="12" text-anchor="middle" fill="#d1d5db" id="t67" textLength="7.375" lengthAdjust="spacingAndGlyphs">0</text><text x="1298.6" y="1015.8" font-size="12" text-anchor="middle" fill="#d1d5db" id="t68" textLength="13.141" lengthAdjust="spacingAndGlyphs">2k</text><text x="1374.3" y="1015.8" font-size="12" text-anchor="middle" fill="#d1d5db" id="t69" textLength="13.219" lengthAdjust="spacingAndGlyphs">4k</text><text x="1450.1" y="1015.8" font-size="12" text-anchor="middle" fill="#d1d5db" id="t70" textLength="13.219" lengthAdjust="spacingAndGlyphs">6k</text><text x="1525.8" y="1015.8" font-size="12" text-anchor="middle" fill="#d1d5db" id="t71" textLength="13.594" lengthAdjust="spacingAndGlyphs">8k</text><text x="1601.5" y="1015.8" font-size="12" text-anchor="middle" fill="#d1d5db" id="t72" textLength="18.953" lengthAdjust="spacingAndGlyphs">10k</text><text x="1677.2" y="1015.8" font-size="12" text-anchor="middle" fill="#d1d5db" id="t73" textLength="18.297" lengthAdjust="spacingAndGlyphs">12k</text><text x="1752.9" y="1015.8" font-size="12" text-anchor="middle" fill="#d1d5db" id="t74" textLength="18.375" lengthAdjust="spacingAndGlyphs">14k</text></svg><svg id="tx" width="1900" height="1016" viewBox="0 0 1900 1016"><defs><linearGradient id="tg" gradientUnits="userSpaceOnUse" x1="380" y1="0" x2="680" y2="0"><stop offset="0" stop-color="#58e3cf"/><stop offset="1" stop-color="#3cc9b7"/></linearGradient></defs><text x="20" y="114.03" font-family="'Aref Ruqaa', 'Liberation Serif', serif" font-size="20" font-weight="700" fill="#f8fafc" text-anchor="start" id="t0"><tspan font-family="'Noto Color Emoji', sans-serif">🏥</tspan> MedCost AI</text><text x="20" y="152.853" font-family="'Aref Ruqaa', 'Liberation Serif', serif" font-size="13.3" font-weight="400" fill="#e2e8f0" text-anchor="start" id="t1" textLength="200.078" lengthAdjust="spacingAndGlyphs">Medical Insurance Cost Predictor</text><text x="44" y="260.184" font-family="'Aref Ruqaa', 'Liberation Serif', serif" font-size="16" font-weight="400" fill="#f1f5f9" text-anchor="start" id="t2"><tspan font-family="'Noto Color Emoji', sans-serif">🔮</tspan> Predict</text><text x="44" y="286.184" font-family="'Aref Ruqaa', 'Liberation Serif', serif" font-size="16" font-weight="400" fill="#f1f5f9" text-anchor="start" id="t3"><tspan font-family="'Noto Color Emoji', sans-serif">📊</tspan> Data Explorer</text><text x="43" y="311.684" font-family="'Aref Ruqaa', 'Liberation Serif', serif" font-size="16" font-weight="400" fill="#f1f5f9" text-anchor="start" id="t4"><tspan font-family="'Noto Emoji', 'DejaVu Sans', sans-serif" font-size="0.62em" font-weight="300" dy="-1">🧠&#xFE0E;</tspan><tspan dy="1"> Model Insights</tspan></text><text x="36" y="432.184" font-family="'Aref Ruqaa', 'Liberation Serif', serif" font-size="16" font-weight="400" fill="#eef5f1" text-anchor="start" id="t5"><tspan font-family="'Noto Color Emoji', sans-serif">✅</tspan> Production model loaded</text><text x="20" y="499.644" font-family="'Aref Ruqaa', 'Liberation Serif', serif" font-size="12.5" font-weight="400" fill="#e2e8f0" text-anchor="start" id="t6" textLength="179.344" lengthAdjust="spacingAndGlyphs"><tspan font-weight="700">Dataset:</tspan> 1,338 US policyholders</text><text x="20" y="519.644" font-family="'Aref Ruqaa', 'Liberation Serif', serif" font-size="12.5" font-weight="400" fill="#e2e8f0" text-anchor="start" id="t7" textLength="195.375" lengthAdjust="spacingAndGlyphs"><tspan font-weight="700">Target:</tspan> Annual insurance charges</text><text x="20" y="539.644" font-family="'Aref Ruqaa', 'Liberation Serif', serif" font-size="12.5" font-weight="400" fill="#e2e8f0" text-anchor="start" id="t8" textLength="174.969" lengthAdjust="spacingAndGlyphs"><tspan font-weight="700">Best model:</tspan> Gradient Boosting</text><text x="1797" y="37.161" font-family="'Aref Ruqaa', 'Liberation Serif', serif" font-size="14" font-weight="400" fill="#fafafa" text-anchor="start" id="t9" textLength="44.406" lengthAdjust="spacingAndGlyphs">Deploy</text><text x="380" y="110.506" font-family="'Aref Ruqaa', 'Liberation Serif', serif" font-size="44" font-weight="700" fill="#e2e8f0" text-anchor="start" id="t10" textLength="299.641" lengthAdjust="spacingAndGlyphs"><tspan fill="url(#tg)">Data Explorer</tspan></text><text x="380" y="153.184" font-family="'Aref Ruqaa', 'Liberation Serif', serif" font-size="16" font-weight="400" fill="#94a3b8" text-anchor="start" id="t11" textLength="377.656" lengthAdjust="spacingAndGlyphs">Understand the patterns in 1,338 insurance records.</text><text x="554" y="226.138" font-family="'Aref Ruqaa', 'Liberation Serif', serif" font-size="12" font-weight="400" fill="#94a3b8" text-anchor="middle" letter-spacing="1.5" id="t12">RECORDS</text><text x="554" y="263.345" font-family="'Aref Ruqaa', 'Liberation Serif', serif" font-size="30" font-weight="700" fill="#14b8a6" text-anchor="middle" id="t13" textLength="73.172" lengthAdjust="spacingAndGlyphs">1,338</text><text x="554" y="287.149" font-family="'Aref Ruqaa', 'Liberation Serif', serif" font-size="13" font-weight="400" fill="#94a3b8" text-anchor="middle" id="t14" textLength="97.734" lengthAdjust="spacingAndGlyphs">US policyholders</text><text x="918" y="226.138" font-family="'Aref Ruqaa', 'Liberation Serif', serif" font-size="12" font-weight="400" fill="#94a3b8" text-anchor="middle" letter-spacing="1.5" id="t15">AVG CHARGE</text><text x="918" y="263.345" font-family="'Aref Ruqaa', 'Liberation Serif', serif" font-size="30" font-weight="700" fill="#14b8a6" text-anchor="middle" id="t16" textLength="106.234" lengthAdjust="spacingAndGlyphs">$13,270</text><text x="918" y="287.149" font-family="'Aref Ruqaa', 'Liberation Serif', serif" font-size="13" font-weight="400" fill="#94a3b8" text-anchor="middle" id="t17" textLength="49.031" lengthAdjust="spacingAndGlyphs">per year</text><text x="1282" y="226.138" font-family="'Aref Ruqaa', 'Liberation Serif', serif" font-size="12" font-weight="400" fill="#94a3b8" text-anchor="middle" letter-spacing="1.5" id="t18">SMOKER RATE</text><text x="1282" y="263.345" font-family="'Aref Ruqaa', 'Liberation Serif', serif" font-size="30" font-weight="700" fill="#14b8a6" text-anchor="middle" id="t19" textLength="83.281" lengthAdjust="spacingAndGlyphs">20.5%</text><text x="1282" y="287.149" font-family="'Aref Ruqaa', 'Liberation Serif', serif" font-size="13" font-weight="400" fill="#94a3b8" text-anchor="middle" id="t20" textLength="57.953" lengthAdjust="spacingAndGlyphs">of dataset</text><text x="1646" y="226.138" font-family="'Aref Ruqaa', 'Liberation Serif', serif" font-size="12" font-weight="400" fill="#94a3b8" text-anchor="middle" letter-spacing="1.5" id="t21">AVG BMI</text><text x="1646" y="263.345" font-family="'Aref Ruqaa', 'Liberation Serif', serif" font-size="30" font-weight="700" fill="#14b8a6" text-anchor="middle" id="t22" textLength="57.906" lengthAdjust="spacingAndGlyphs">30.7</text><text x="1646" y="287.149" font-family="'Aref Ruqaa', 'Liberation Serif', serif" font-size="13" font-weight="400" fill="#94a3b8" text-anchor="middle" id="t23" textLength="33.734" lengthAdjust="spacingAndGlyphs">kg/m²</text><text x="395" y="377.968" font-family="Gelasio, 'Liberation Serif', serif" font-size="24" font-weight="400" fill="#f1f5f9" text-anchor="start" id="t24" textLength="221.500" lengthAdjust="spacingAndGlyphs">Charges Distribution</text><text x="1131" y="377.968" font-family="Gelasio, 'Liberation Serif', serif" font-size="24" font-weight="400" fill="#f1f5f9" text-anchor="start" id="t25" textLength="276.266" lengthAdjust="spacingAndGlyphs">Charges by Smoker Status</text><text x="395" y="752.968" font-family="Gelasio, 'Liberation Serif', serif" font-size="24" font-weight="400" fill="#f1f5f9" text-anchor="start" id="t26" textLength="165.766" lengthAdjust="spacingAndGlyphs">Age vs. Charges</text><text x="1131" y="752.968" font-family="Gelasio, 'Liberation Serif', serif" font-size="24" font-weight="400" fill="#f1f5f9" text-anchor="start" id="t27" textLength="288.312" lengthAdjust="spacingAndGlyphs">Average Charges by Region</text></svg><div id="wm"><div class="wa">مستقل</div><div class="wl">mostaql.com</div></div></div></body></html>
